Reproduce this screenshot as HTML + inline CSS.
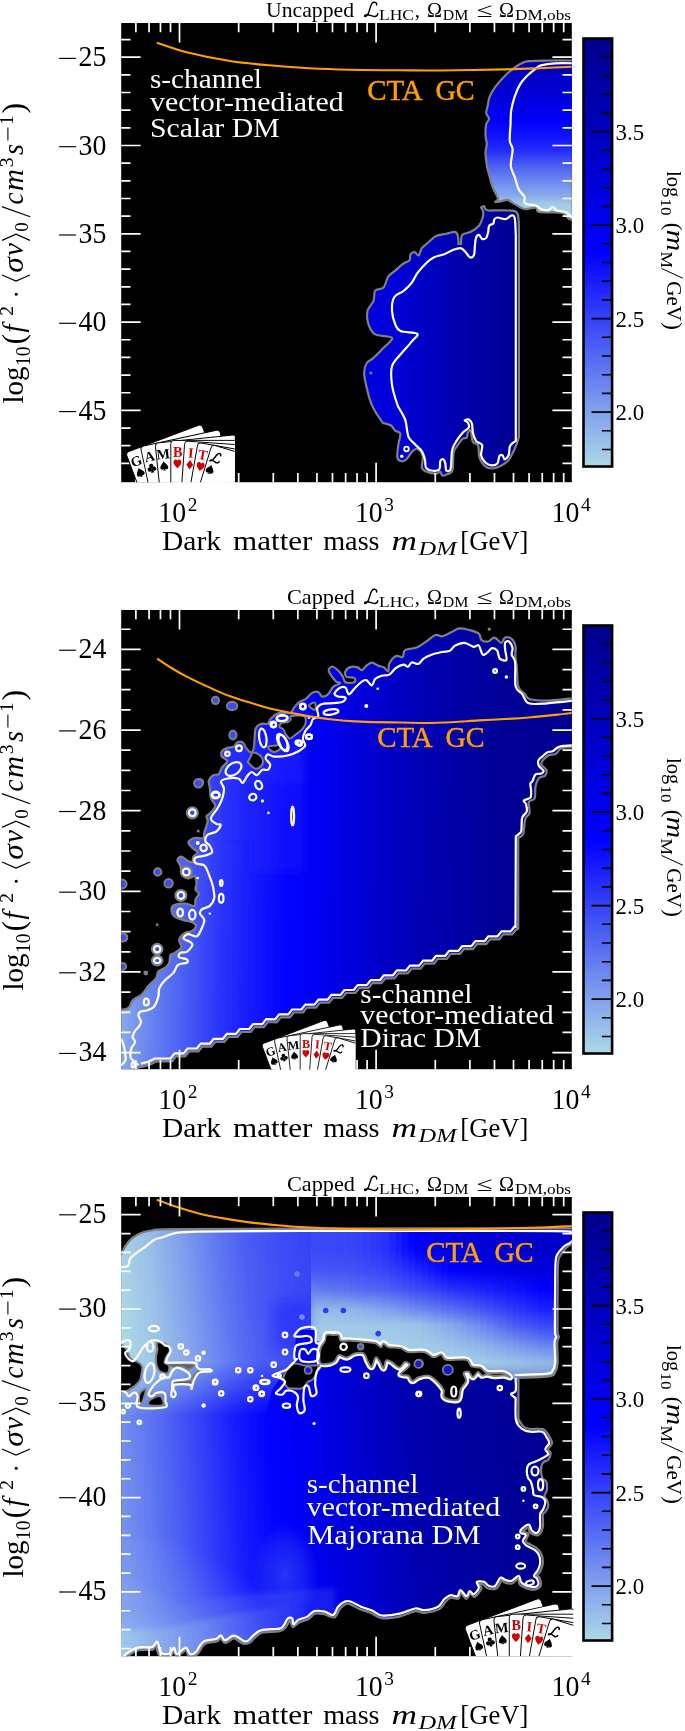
<!DOCTYPE html><html><head><meta charset="utf-8"><title>chart</title>
<style>html,body{margin:0;padding:0;background:#fff}svg{display:block;will-change:transform}text{white-space:pre}</style></head><body>
<svg width="685" height="1731" viewBox="0 0 685 1731">
<rect width="685" height="1731" fill="#fff"/>
<defs>
<linearGradient id="cbg" x1="0" y1="1" x2="0" y2="0">
<stop offset="0" stop-color="#add8e6"/><stop offset="0.5" stop-color="#0000ff"/><stop offset="1" stop-color="#00008b"/></linearGradient>
<g id="cbar">
<rect x="583.5" y="15.5" width="28.6" height="428" fill="url(#cbg)" stroke="#000" stroke-width="2.6"/>
<path d="M611.3 426.50h-9.4M611.3 407.80h-9.4M611.3 389.10h-19.8M611.3 370.40h-9.4M611.3 351.70h-9.4M611.3 333.00h-9.4M611.3 314.30h-9.4M611.3 295.60h-19.8M611.3 276.90h-9.4M611.3 258.20h-9.4M611.3 239.50h-9.4M611.3 220.80h-9.4M611.3 202.10h-19.8M611.3 183.40h-9.4M611.3 164.70h-9.4M611.3 146.00h-9.4M611.3 127.30h-9.4M611.3 108.60h-19.8M611.3 89.90h-9.4M611.3 71.20h-9.4M611.3 52.50h-9.4M611.3 33.80h-9.4" stroke="#000" stroke-width="1.6" fill="none"/>
<text x="615.6" y="116.80" font-size="23" textLength="28.6" lengthAdjust="spacingAndGlyphs" font-family="Liberation Serif, serif">3.5</text>
<text x="615.6" y="210.30" font-size="23" textLength="28.6" lengthAdjust="spacingAndGlyphs" font-family="Liberation Serif, serif">3.0</text>
<text x="615.6" y="303.80" font-size="23" textLength="28.6" lengthAdjust="spacingAndGlyphs" font-family="Liberation Serif, serif">2.5</text>
<text x="615.6" y="397.30" font-size="23" textLength="28.6" lengthAdjust="spacingAndGlyphs" font-family="Liberation Serif, serif">2.0</text>
<g transform="translate(667.2 148) rotate(90)" font-family="Liberation Serif, serif" font-size="20.6">
<text x="0" y="0" textLength="26.2" lengthAdjust="spacingAndGlyphs">log</text>
<text x="27.4" y="6.4" font-size="14.8" textLength="17" lengthAdjust="spacingAndGlyphs">10</text>
<text x="51.8" y="0.8" font-size="23">(</text>
<text x="58.8" y="0" font-style="italic" font-size="24.5" textLength="21.5" lengthAdjust="spacingAndGlyphs">m</text>
<text x="80.4" y="6.6" font-size="16.5" textLength="16.5" lengthAdjust="spacingAndGlyphs">M</text>
<path d="M97.5 5.6L107.2 -15.6" stroke="#000" stroke-width="1.0"/>
<text x="110.2" y="0" textLength="39.8" lengthAdjust="spacingAndGlyphs">GeV</text>
<text x="151.2" y="0.8" font-size="23">)</text>
</g>
</g>
<g id="xax" font-family="Liberation Serif, serif">
<text x="158.3" y="499.1" font-size="28.8" textLength="27.8" lengthAdjust="spacingAndGlyphs">10</text>
<text x="187.7" y="488" font-size="19.4">2</text>
<text x="354.9" y="499.1" font-size="28.8" textLength="27.8" lengthAdjust="spacingAndGlyphs">10</text>
<text x="384.3" y="488" font-size="19.4">3</text>
<text x="551.5" y="499.1" font-size="28.8" textLength="27.8" lengthAdjust="spacingAndGlyphs">10</text>
<text x="580.9" y="488" font-size="19.4">4</text>
<text x="162" y="527.3" font-size="26.4" textLength="59" lengthAdjust="spacingAndGlyphs">Dark</text>
<text x="233" y="527.3" font-size="26.4" textLength="79.5" lengthAdjust="spacingAndGlyphs">matter</text>
<text x="323.2" y="527.3" font-size="26.4" textLength="56.4" lengthAdjust="spacingAndGlyphs">mass</text>
<text x="391.4" y="527.3" font-size="26.4" font-style="italic" textLength="25.5" lengthAdjust="spacingAndGlyphs">m</text>
<text x="418.6" y="531.5" font-size="18.5" font-style="italic" textLength="38" lengthAdjust="spacingAndGlyphs">DM</text>
<text x="460.3" y="527.3" font-size="26.4" textLength="68" lengthAdjust="spacingAndGlyphs">[GeV]</text>
</g>
<g id="yax" transform="translate(23.2 380) rotate(-90)" font-family="Liberation Serif, serif" font-size="28.5">
<text x="-0.5" y="0.0" textLength="37.0" lengthAdjust="spacingAndGlyphs" >log</text>
<text x="37.0" y="7.0" font-size="20.0" textLength="19.5" lengthAdjust="spacingAndGlyphs" >10</text>
<text x="58.6" y="1.2" font-size="32.0" >(</text>
<text x="70.5" y="0.0" font-style="italic">f</text>
<text x="87.2" y="-10.3" font-size="19.5" >2</text>
<circle cx="108.7" cy="-7" r="1.5"/>
<path d="M128 -21.2L121.9 -7.2L128 6.8M162.6 -21.2L168.8 -7.2L162.6 6.8" stroke="#000" stroke-width="1.15" fill="none"/>
<text x="130.2" y="0.0" textLength="15.5" lengthAdjust="spacingAndGlyphs" font-style="italic">σ</text>
<text x="147.0" y="0.0" textLength="13.0" lengthAdjust="spacingAndGlyphs" font-style="italic">v</text>
<text x="171.3" y="5.0" font-size="19.0" >0</text>
<path d="M186.3 7L196.4 -21.4" stroke="#000" stroke-width="1.15"/>
<text x="198.5" y="0.0" textLength="12.0" lengthAdjust="spacingAndGlyphs" font-style="italic">c</text>
<text x="212.0" y="0.0" textLength="22.0" lengthAdjust="spacingAndGlyphs" font-style="italic">m</text>
<text x="235.8" y="-10.3" font-size="19.5" >3</text>
<text x="248.0" y="0.0" textLength="11.0" lengthAdjust="spacingAndGlyphs" font-style="italic">s</text>
<path d="M262.5 -15.3h13.1" stroke="#000" stroke-width="1.05"/>
<text x="278.0" y="-10.3" font-size="19.5" >1</text>
<text x="289.6" y="1.2" font-size="32.0" >)</text>
</g>
<path id="scrL" d="M12.3 -12C12.3 -13.8 11.2 -14.8 9.6 -14.7C8 -14.6 7 -13 6.4 -11L4.3 -4.5C3.6 -2.4 2.4 -0.6 0.8 -0.4C-0.2 -0.3 0 -1.6 1.2 -2C3.2 -2.8 5.4 -1.8 7.7 -1C9.6 -0.2 11.6 -0.2 12.6 -1.4C13.1 -2 13.3 -2.6 13.3 -3.1" fill="none" stroke-linecap="round" stroke-linejoin="round"/>
<clipPath id="logoclip"><rect x="110" y="400" width="124.8" height="82.3"/></clipPath>
<g id="gambit" clip-path="url(#logoclip)">
<g transform="translate(125.7 452.7) rotate(-20.7)">
<rect x="0" y="0" width="81" height="110" rx="3.2" fill="#fff" stroke="#000" stroke-width="0.95"/>
<text x="6.9" y="16.3" font-size="14.2" font-weight="bold" text-anchor="middle" fill="#000" font-family="Liberation Serif, serif">G</text>
<g transform="translate(6.6 23.4)" fill="#000"><path d="M0 -4.6C1 -2.6 4 -0.6 4 1.6C4 3 3 3.8 2 3.8C1.2 3.8 0.6 3.4 0.3 2.8C0.4 3.6 0.8 4.2 1.6 4.6L-1.6 4.6C-0.8 4.2 -0.4 3.6 -0.3 2.8C-0.6 3.4 -1.2 3.8 -2 3.8C-3 3.8 -4 3 -4 1.6C-4 -0.6 -1 -2.6 0 -4.6Z"/></g>
</g>
<g transform="translate(140.4 446.6) rotate(-12.1)">
<rect x="0" y="0" width="81" height="110" rx="3.2" fill="#fff" stroke="#000" stroke-width="0.95"/>
<text x="6.9" y="16.3" font-size="14.2" font-weight="bold" text-anchor="middle" fill="#000" font-family="Liberation Serif, serif">A</text>
<g transform="translate(6.6 23.4)" fill="#000"><path d="M-0.5 0L0.5 0L1.5 4.6L-1.5 4.6Z"/><circle cx="0" cy="-2.3" r="2.15"/><circle cx="-2.3" cy="1" r="2.15"/><circle cx="2.3" cy="1" r="2.15"/></g>
</g>
<g transform="translate(155.1 443.2) rotate(-6.0)">
<rect x="0" y="0" width="81" height="110" rx="3.2" fill="#fff" stroke="#000" stroke-width="0.95"/>
<text x="6.9" y="16.3" font-size="14.2" font-weight="bold" text-anchor="middle" fill="#000" font-family="Liberation Serif, serif">M</text>
<g transform="translate(6.6 23.4)" fill="#000"><path d="M0 -4.6C1 -2.6 4 -0.6 4 1.6C4 3 3 3.8 2 3.8C1.2 3.8 0.6 3.4 0.3 2.8C0.4 3.6 0.8 4.2 1.6 4.6L-1.6 4.6C-0.8 4.2 -0.4 3.6 -0.3 2.8C-0.6 3.4 -1.2 3.8 -2 3.8C-3 3.8 -4 3 -4 1.6C-4 -0.6 -1 -2.6 0 -4.6Z"/></g>
</g>
<g transform="translate(170.8 440.4) rotate(0.0)">
<rect x="0" y="0" width="81" height="110" rx="3.2" fill="#fff" stroke="#000" stroke-width="0.95"/>
<text x="6.9" y="16.3" font-size="14.2" font-weight="bold" text-anchor="middle" fill="#d40000" font-family="Liberation Serif, serif">B</text>
<g transform="translate(6.6 23.4)" fill="#d40000"><path d="M0 4.4C-1.5 2.6 -4 0.8 -4 -1.6C-4 -3.4 -2.8 -4.3 -1.8 -4.3C-0.9 -4.3 -0.3 -3.8 0 -3C0.3 -3.8 0.9 -4.3 1.8 -4.3C2.8 -4.3 4 -3.4 4 -1.6C4 0.8 1.5 2.6 0 4.4Z"/></g>
</g>
<g transform="translate(184.8 441.0) rotate(4.0)">
<rect x="0" y="0" width="81" height="110" rx="3.2" fill="#fff" stroke="#000" stroke-width="0.95"/>
<text x="6.9" y="16.3" font-size="14.2" font-weight="bold" text-anchor="middle" fill="#d40000" font-family="Liberation Serif, serif">I</text>
<g transform="translate(6.6 23.4)" fill="#d40000"><path d="M0 -4.7L3.4 0L0 4.7L-3.4 0Z"/></g>
</g>
<g transform="translate(198.0 442.4) rotate(10.0)">
<rect x="0" y="0" width="81" height="110" rx="3.2" fill="#fff" stroke="#000" stroke-width="0.95"/>
<text x="6.9" y="16.3" font-size="14.2" font-weight="bold" text-anchor="middle" fill="#d40000" font-family="Liberation Serif, serif">T</text>
<g transform="translate(6.6 23.4)" fill="#d40000"><path d="M0 4.4C-1.5 2.6 -4 0.8 -4 -1.6C-4 -3.4 -2.8 -4.3 -1.8 -4.3C-0.9 -4.3 -0.3 -3.8 0 -3C0.3 -3.8 0.9 -4.3 1.8 -4.3C2.8 -4.3 4 -3.4 4 -1.6C4 0.8 1.5 2.6 0 4.4Z"/></g>
</g>
<g transform="translate(212.0 444.5) rotate(17.0)">
<rect x="0" y="0" width="81" height="110" rx="3.2" fill="#fff" stroke="#000" stroke-width="0.95"/>
<g transform="translate(2.6 16.4) scale(0.68) skewX(-4)"><use href="#scrL" stroke="#000" stroke-width="2.2"/></g>
<g transform="translate(5.4 24.4)" fill="#000"><path d="M0 -4.6C1 -2.6 4 -0.6 4 1.6C4 3 3 3.8 2 3.8C1.2 3.8 0.6 3.4 0.3 2.8C0.4 3.6 0.8 4.2 1.6 4.6L-1.6 4.6C-0.8 4.2 -0.4 3.6 -0.3 2.8C-0.6 3.4 -1.2 3.8 -2 3.8C-3 3.8 -4 3 -4 1.6C-4 -0.6 -1 -2.6 0 -4.6Z"/></g>
</g>
</g>
</defs>
<!-- panel 1 -->
<rect x="121.2" y="23.0" width="450.6" height="459.2" fill="#000"/>
<clipPath id="clip0"><rect x="121.2" y="23.0" width="450.6" height="459.2"/></clipPath>
<g clip-path="url(#clip0)">
<linearGradient id="g1u" gradientUnits="userSpaceOnUse" x1="0" y1="58" x2="0" y2="215"><stop offset="0.0000" stop-color="#0000b5"/><stop offset="0.1083" stop-color="#0000c3"/><stop offset="0.2038" stop-color="#0000d1"/><stop offset="0.2994" stop-color="#0000e3"/><stop offset="0.3949" stop-color="#0000fa"/><stop offset="0.4904" stop-color="#0e11fd"/><stop offset="0.5860" stop-color="#232bfa"/><stop offset="0.6815" stop-color="#4a5df4"/><stop offset="0.7771" stop-color="#6b86f0"/><stop offset="0.8726" stop-color="#87a8ec"/><stop offset="0.9236" stop-color="#9fc7e8"/><stop offset="1.0000" stop-color="#add8e6"/></linearGradient>
<linearGradient id="g1l" gradientUnits="userSpaceOnUse" x1="364.0" y1="0.0" x2="518.0" y2="0.0" ><stop offset="0.0000" stop-color="#0000df"/><stop offset="0.1818" stop-color="#0000d8"/><stop offset="0.3636" stop-color="#0000c7"/><stop offset="0.6234" stop-color="#0000ae"/><stop offset="0.8182" stop-color="#00009e"/><stop offset="1.0000" stop-color="#000092"/></linearGradient>
<path d="M576.0 60.5C571.5 60.5 557.2 60.4 549.3 60.5C541.4 60.6 533.4 60.6 528.5 61.2C523.6 61.8 523.0 62.6 520.2 64.0C517.4 65.4 514.7 67.4 511.9 69.6C509.1 71.8 506.4 74.3 503.6 77.2C500.8 80.1 497.6 83.7 495.3 86.9C493.0 90.1 491.0 93.4 489.7 96.6C488.4 99.8 488.2 103.5 487.6 106.3C487.0 109.1 486.0 111.1 486.2 113.2C486.4 115.3 489.0 117.0 489.0 118.8C489.0 120.6 486.8 121.5 486.2 124.3C485.6 127.1 485.4 132.1 485.5 135.4C485.6 138.7 486.8 141.2 486.8 144.0C486.8 146.8 485.5 148.4 485.5 152.1C485.5 155.8 486.2 161.8 486.9 166.0C487.6 170.2 488.8 173.5 489.7 177.0C490.6 180.5 491.4 183.8 492.5 186.8C493.6 189.8 495.7 193.0 496.6 195.1C497.5 197.2 498.2 198.0 498.0 199.2C497.8 200.3 494.8 201.7 495.3 202.0C495.8 202.3 498.7 201.7 500.8 201.3C502.9 201.0 505.4 199.4 507.7 199.9C510.0 200.4 511.9 202.6 514.7 204.1C517.5 205.6 520.9 208.4 524.4 209.0C527.9 209.6 533.2 207.2 535.5 207.6C537.8 208.0 536.0 210.9 538.3 211.7C540.6 212.5 545.1 212.2 549.3 212.4C553.4 212.6 560.0 212.1 563.2 213.1C566.5 214.1 566.7 217.5 568.8 218.7C570.9 219.9 574.8 220.0 576.0 220.3C576.0 193.7 576.0 87.1 576.0 60.5Z" fill="url(#g1u)" stroke="#808080" stroke-width="2.2"/>
<path d="M576.0 63.3C572.5 63.3 560.7 62.9 554.9 63.3C549.1 63.6 544.2 64.5 541.0 65.4C537.8 66.3 537.8 67.2 535.5 68.9C533.2 70.6 529.8 73.3 527.2 75.8C524.7 78.3 522.3 80.6 520.2 84.1C518.1 87.6 516.2 92.2 514.7 96.6C513.2 101.0 511.9 105.9 511.2 110.5C510.5 115.1 510.7 119.2 510.5 124.3C510.3 129.4 509.4 136.8 509.8 141.0C510.2 145.2 512.4 145.1 512.6 149.3C512.8 153.5 510.4 161.4 510.8 166.0C511.2 170.6 513.4 173.1 514.7 177.0C516.0 180.9 517.2 186.2 518.8 189.5C520.4 192.8 523.3 194.2 524.4 196.5C525.5 198.8 523.2 201.9 525.1 203.4C527.0 204.9 532.9 204.6 535.5 205.5C538.1 206.4 538.9 208.2 541.0 209.0C543.1 209.8 546.0 210.7 548.0 210.3C550.0 210.0 551.4 206.9 552.8 206.9C554.2 206.9 554.1 209.4 556.3 210.3C558.5 211.2 563.4 211.2 566.0 212.4C568.6 213.6 570.5 216.2 572.2 217.3C573.9 218.4 575.4 218.7 576.0 219.0" fill="none" stroke="#fff" stroke-width="2.2"/>
<path d="M518.9 225.7C518.7 223.8 518.7 216.9 517.8 214.4C516.9 211.9 516.8 211.6 513.7 210.9C510.6 210.2 503.8 210.4 499.4 210.3C495.0 210.2 489.8 211.0 487.2 210.3C484.6 209.6 484.6 206.9 484.1 206.2C483.6 206.4 481.3 206.5 481.1 207.3C480.9 208.2 482.8 209.6 483.1 211.3C483.4 213.0 483.4 215.1 482.7 217.5C482.0 219.9 481.0 223.3 479.0 225.7C477.0 228.1 473.6 230.3 470.8 231.8C468.0 233.3 463.9 232.9 462.3 234.9C460.7 236.9 461.2 242.5 461.0 244.0C460.6 244.0 459.0 244.0 458.6 244.0C458.4 242.5 458.3 236.9 457.6 234.9C456.9 232.9 456.4 232.0 454.5 231.8C452.6 231.6 449.4 233.1 446.3 233.8C443.2 234.5 439.0 234.5 436.1 235.9C433.2 237.3 431.3 240.0 428.9 242.0C426.5 244.0 423.5 245.9 421.8 248.1C420.1 250.3 419.9 254.6 418.7 255.3C417.5 256.0 416.0 252.4 414.6 252.2C413.2 252.0 411.4 252.9 410.5 254.3C409.6 255.7 410.7 258.9 409.5 260.4C408.3 261.9 405.8 261.8 403.4 263.5C401.0 265.2 397.8 268.4 395.2 270.6C392.6 272.8 390.0 274.0 388.1 276.8C386.2 279.6 385.8 285.1 383.6 287.4C381.5 289.7 376.9 288.5 375.2 290.7C373.5 292.9 374.8 297.4 373.5 300.8C372.2 304.2 368.3 307.0 367.5 310.9C366.7 314.8 367.2 320.4 368.5 324.3C369.8 328.2 371.3 332.1 375.2 334.4C379.1 336.6 390.6 335.6 392.0 337.8C393.4 340.0 386.7 344.5 383.6 347.8C380.5 351.1 376.3 355.4 373.5 357.9C370.7 360.4 368.4 360.5 366.8 363.0C365.2 365.5 364.1 368.8 364.1 373.0C364.1 377.2 365.5 382.8 366.8 388.1C368.1 393.4 369.3 399.3 371.8 404.9C374.3 410.5 379.7 418.6 381.9 421.7C384.1 424.8 383.5 422.9 385.0 423.5C386.5 424.1 389.4 424.3 391.1 425.5C392.8 426.7 393.7 429.3 395.2 430.7C396.7 432.1 399.8 431.3 400.3 433.7C400.8 436.1 398.8 441.1 398.3 445.0C397.8 448.9 396.8 454.5 397.3 457.2C397.8 459.9 399.9 460.9 401.4 461.3C402.9 461.7 404.6 461.0 406.5 459.3C408.4 457.6 410.7 452.8 412.6 451.1C414.5 449.4 416.0 448.1 417.7 449.0C419.4 449.9 422.1 453.1 422.8 456.2C423.5 459.3 421.3 464.8 421.8 467.4C422.3 469.9 423.5 470.5 425.9 471.5C428.3 472.5 433.7 473.6 436.1 473.6C438.5 473.6 439.2 471.2 440.2 471.5C441.2 471.8 441.2 475.1 442.2 475.6C443.2 476.1 444.6 475.5 446.3 474.6C448.0 473.8 451.2 474.1 452.4 470.5C453.6 466.9 452.8 457.0 453.5 453.1C454.2 449.2 455.0 449.4 456.5 447.0C458.0 444.6 461.0 440.3 462.7 438.8C464.4 437.3 465.8 438.8 466.7 437.8C467.6 436.8 467.1 433.9 467.8 432.7C468.5 431.5 470.0 429.2 470.8 430.7C471.6 432.2 471.7 439.5 472.9 441.9C474.1 444.3 476.9 442.4 478.0 445.0C479.1 447.6 478.4 453.8 479.4 457.2C480.4 460.6 482.1 463.5 484.1 465.4C486.1 467.3 488.8 468.3 491.3 468.5C493.9 468.7 496.7 467.6 499.4 466.4C502.1 465.2 505.4 463.5 507.6 461.3C509.8 459.1 511.2 456.0 512.7 453.1C514.2 450.2 515.8 446.6 516.8 443.9C517.8 441.2 518.5 438.0 518.9 436.8C518.9 401.6 518.9 260.9 518.9 225.7Z" fill="url(#g1l)" stroke="#808080" stroke-width="2.2" stroke-linejoin="round"/>
<path d="M515.8 235.9C515.6 233.0 515.5 221.9 514.8 218.5C514.1 215.1 513.2 215.3 511.7 215.4C510.2 215.5 508.0 218.8 505.6 219.1C503.2 219.4 499.3 217.4 497.4 217.5C495.5 217.6 495.0 218.5 494.3 219.5C493.6 220.5 494.2 222.6 493.3 223.6C492.4 224.6 490.1 224.3 489.2 225.7C488.3 227.1 488.7 229.8 488.2 231.8C487.7 233.8 487.2 236.7 486.2 237.9C485.2 239.1 483.3 239.4 482.1 238.9C480.9 238.4 480.0 235.1 479.0 234.9C478.0 234.7 476.7 236.0 476.0 237.9C475.3 239.8 475.2 243.2 474.9 246.1C474.5 249.0 474.8 253.4 473.9 255.3C473.0 257.2 471.2 257.8 469.8 257.3C468.4 256.8 467.2 253.7 465.7 252.2C464.2 250.7 462.8 248.4 460.6 248.1C458.4 247.8 455.1 249.2 452.4 250.2C449.7 251.2 447.4 253.1 444.3 254.3C441.2 255.5 437.2 255.8 434.1 257.3C431.0 258.8 428.6 260.9 425.9 263.5C423.2 266.1 420.1 269.5 417.7 272.7C415.3 275.9 414.0 279.8 411.6 282.9C409.2 286.0 406.3 288.7 403.4 291.1C400.5 293.5 396.1 293.9 394.2 297.2C392.3 300.5 391.8 306.4 392.0 310.9C392.2 315.4 393.9 320.9 395.3 324.3C396.7 327.7 396.8 329.4 400.4 331.0C404.0 332.6 415.2 332.0 417.2 333.7C419.1 335.4 414.9 337.6 412.1 341.1C409.3 344.6 403.8 350.3 400.4 354.5C397.0 358.7 393.4 361.2 392.0 366.3C390.6 371.4 391.1 378.4 392.0 384.8C392.9 391.2 395.9 400.3 397.3 404.5C398.7 408.7 399.0 407.6 400.3 410.2C401.6 412.8 404.0 416.0 405.4 420.4C406.8 424.8 406.8 432.7 408.5 436.8C410.2 440.9 413.5 442.6 415.7 445.0C417.9 447.4 420.3 448.7 421.8 451.1C423.3 453.5 424.2 456.6 424.9 459.3C425.6 462.0 424.9 465.5 425.9 467.4C426.9 469.3 428.8 470.1 431.0 470.5C433.2 470.9 437.7 471.0 439.2 469.5C440.7 468.0 439.5 463.0 440.2 461.3C440.9 459.6 442.3 459.0 443.2 459.3C444.1 459.6 444.8 461.5 445.3 463.4C445.8 465.3 445.5 469.5 446.3 470.5C447.1 471.5 449.5 471.4 450.4 469.5C451.2 467.6 451.1 462.7 451.4 459.3C451.7 455.9 451.5 452.1 452.4 449.0C453.2 445.9 454.8 443.6 456.5 440.9C458.2 438.2 460.6 434.9 462.7 432.7C464.8 430.5 467.9 429.3 468.8 427.6C469.7 425.9 468.5 423.7 467.8 422.5C467.1 421.3 464.5 420.9 464.7 420.4C464.9 419.9 467.6 418.9 468.8 419.4C470.0 419.9 471.2 421.3 471.9 423.5C472.6 425.7 472.2 429.8 472.9 432.7C473.6 435.6 474.5 438.8 476.0 440.9C477.5 442.9 481.2 442.6 482.1 445.0C483.0 447.4 480.6 452.3 481.1 455.2C481.6 458.1 483.4 460.6 485.1 462.3C486.8 464.0 489.2 465.2 491.3 465.4C493.4 465.6 496.0 464.9 497.4 463.4C498.8 461.9 498.5 457.6 499.4 456.2C500.2 454.8 501.6 454.7 502.5 455.2C503.4 455.7 503.6 459.3 504.6 459.3C505.6 459.3 507.8 457.2 508.6 455.2C509.5 453.1 509.2 448.9 509.7 447.0C510.2 445.1 510.7 444.9 511.7 443.9C512.7 442.9 515.1 441.4 515.8 440.9C515.8 406.7 515.8 270.1 515.8 235.9Z" fill="url(#g1l)" stroke="#fff" stroke-width="2.2" stroke-linejoin="round"/>
<circle cx="406.5" cy="449" r="2.3" fill="none" stroke="#fff" stroke-width="1.8"/><circle cx="401.8" cy="456.2" r="1.7" fill="#fff"/><circle cx="370.8" cy="373" r="1.5" fill="#808080"/>
<path d="M156.9 42.8C162.0 44.4 175.2 49.5 187.6 52.6C200.0 55.7 216.8 59.1 231.4 61.3C246.0 63.5 260.6 64.5 275.2 65.7C289.8 67.0 304.4 68.1 319.0 68.8C333.6 69.5 349.3 69.8 362.8 70.0C376.3 70.2 387.1 70.2 400.0 70.3C412.9 70.4 422.4 70.7 440.0 70.5C457.6 70.3 488.2 69.8 505.7 69.4C523.2 69.0 534.0 68.4 545.0 68.0C556.0 67.6 567.5 67.0 572.0 66.8" fill="none" stroke="#ffa000" stroke-width="2.1"/>
</g>
<path d="M179.50 23.00v19.4M179.50 482.20v-19.4M376.10 23.00v19.4M376.10 482.20v-19.4M135.88 23.00v9.3M135.88 482.20v-9.3M149.05 23.00v9.3M149.05 482.20v-9.3M160.45 23.00v9.3M160.45 482.20v-9.3M170.50 23.00v9.3M170.50 482.20v-9.3M238.68 23.00v9.3M238.68 482.20v-9.3M273.30 23.00v9.3M273.30 482.20v-9.3M297.86 23.00v9.3M297.86 482.20v-9.3M316.92 23.00v9.3M316.92 482.20v-9.3M332.48 23.00v9.3M332.48 482.20v-9.3M345.65 23.00v9.3M345.65 482.20v-9.3M357.05 23.00v9.3M357.05 482.20v-9.3M367.10 23.00v9.3M367.10 482.20v-9.3M435.28 23.00v9.3M435.28 482.20v-9.3M469.90 23.00v9.3M469.90 482.20v-9.3M494.46 23.00v9.3M494.46 482.20v-9.3M513.52 23.00v9.3M513.52 482.20v-9.3M529.08 23.00v9.3M529.08 482.20v-9.3M542.25 23.00v9.3M542.25 482.20v-9.3M553.65 23.00v9.3M553.65 482.20v-9.3M563.70 23.00v9.3M563.70 482.20v-9.3M121.20 57.20h19.4M571.80 57.20h-19.4M121.20 145.50h19.4M571.80 145.50h-19.4M121.20 233.80h19.4M571.80 233.80h-19.4M121.20 322.10h19.4M571.80 322.10h-19.4M121.20 410.40h19.4M571.80 410.40h-19.4M121.20 463.38h9.3M571.80 463.38h-9.3M121.20 445.72h9.3M571.80 445.72h-9.3M121.20 428.06h9.3M571.80 428.06h-9.3M121.20 392.74h9.3M571.80 392.74h-9.3M121.20 375.08h9.3M571.80 375.08h-9.3M121.20 357.42h9.3M571.80 357.42h-9.3M121.20 339.76h9.3M571.80 339.76h-9.3M121.20 304.44h9.3M571.80 304.44h-9.3M121.20 286.78h9.3M571.80 286.78h-9.3M121.20 269.12h9.3M571.80 269.12h-9.3M121.20 251.46h9.3M571.80 251.46h-9.3M121.20 216.14h9.3M571.80 216.14h-9.3M121.20 198.48h9.3M571.80 198.48h-9.3M121.20 180.82h9.3M571.80 180.82h-9.3M121.20 163.16h9.3M571.80 163.16h-9.3M121.20 127.84h9.3M571.80 127.84h-9.3M121.20 110.18h9.3M571.80 110.18h-9.3M121.20 92.52h9.3M571.80 92.52h-9.3M121.20 74.86h9.3M571.80 74.86h-9.3M121.20 39.54h9.3M571.80 39.54h-9.3" stroke="#fff" stroke-width="1.7" fill="none"/>
<g font-family="Liberation Serif, serif" font-size="28" fill="#fff">
<text x="150" y="88.3" textLength="112" lengthAdjust="spacingAndGlyphs">s-channel</text>
<text x="150" y="110.8" textLength="193.6" lengthAdjust="spacingAndGlyphs">vector-mediated</text>
<text x="150" y="136.5" textLength="129.6" lengthAdjust="spacingAndGlyphs">Scalar DM</text>
</g>
<g font-size="29" fill="#ffa000" stroke="#ffa000" stroke-width="0.45" font-family="Liberation Serif, serif"><text x="367.2" y="99.6" textLength="55.6" lengthAdjust="spacingAndGlyphs">CTA</text><text x="435.4" y="99.6" textLength="39.2" lengthAdjust="spacingAndGlyphs">GC</text></g>
<use href="#gambit"/>
<path d="M59.1 58.40h17" stroke="#000" stroke-width="1.15"/>
<text x="78.6" y="66.40" font-size="28.6" textLength="27.8" lengthAdjust="spacingAndGlyphs" font-family="Liberation Serif, serif">25</text>
<path d="M59.1 146.70h17" stroke="#000" stroke-width="1.15"/>
<text x="78.6" y="154.70" font-size="28.6" textLength="27.8" lengthAdjust="spacingAndGlyphs" font-family="Liberation Serif, serif">30</text>
<path d="M59.1 235.00h17" stroke="#000" stroke-width="1.15"/>
<text x="78.6" y="243.00" font-size="28.6" textLength="27.8" lengthAdjust="spacingAndGlyphs" font-family="Liberation Serif, serif">35</text>
<path d="M59.1 323.30h17" stroke="#000" stroke-width="1.15"/>
<text x="78.6" y="331.30" font-size="28.6" textLength="27.8" lengthAdjust="spacingAndGlyphs" font-family="Liberation Serif, serif">40</text>
<path d="M59.1 411.60h17" stroke="#000" stroke-width="1.15"/>
<text x="78.6" y="419.60" font-size="28.6" textLength="27.8" lengthAdjust="spacingAndGlyphs" font-family="Liberation Serif, serif">45</text>
<g font-family="Liberation Serif, serif" font-size="20.6">
<text x="266" y="16.9" textLength="88" lengthAdjust="spacingAndGlyphs">Uncapped</text>
<use href="#scrL" x="364.4" y="16.9" stroke="#000" stroke-width="1.45"/>
<text x="379" y="20.3" font-size="14.3" textLength="35" lengthAdjust="spacingAndGlyphs">LHC</text>
<text x="414.8" y="16.9">,</text>
<text x="427" y="16.9" textLength="15" lengthAdjust="spacingAndGlyphs">Ω</text>
<text x="442.8" y="20.3" font-size="14.3" textLength="25.6" lengthAdjust="spacingAndGlyphs">DM</text>
<text x="476.6" y="16.9" textLength="16" lengthAdjust="spacingAndGlyphs">≤</text>
<text x="499" y="16.9" textLength="15" lengthAdjust="spacingAndGlyphs">Ω</text>
<text x="515" y="20.3" font-size="14.3" textLength="56" lengthAdjust="spacingAndGlyphs">DM,obs</text>
</g>
<use href="#cbar" y="23.0"/>
<use href="#xax" y="23.0"/>
<use href="#yax" y="23.0"/>
<!-- panel 2 -->
<rect x="121.2" y="610.0" width="450.6" height="459.2" fill="#000"/>
<clipPath id="clip1"><rect x="121.2" y="610.0" width="450.6" height="459.2"/></clipPath>
<g clip-path="url(#clip1)">
<linearGradient id="g2" gradientUnits="userSpaceOnUse" x1="121.0" y1="925.0" x2="572.0" y2="935.0" ><stop offset="0.0000" stop-color="#8aadeb"/><stop offset="0.0643" stop-color="#6b86f0"/><stop offset="0.1463" stop-color="#4a5df4"/><stop offset="0.2195" stop-color="#2b36f9"/><stop offset="0.2905" stop-color="#151afc"/><stop offset="0.3636" stop-color="#0304fe"/><stop offset="0.4368" stop-color="#0000f2"/><stop offset="0.5100" stop-color="#0000dc"/><stop offset="0.5831" stop-color="#0000c7"/><stop offset="0.6563" stop-color="#0000b5"/><stop offset="0.7295" stop-color="#0000a8"/><stop offset="0.8004" stop-color="#00009b"/><stop offset="0.8736" stop-color="#000094"/><stop offset="1.0000" stop-color="#000092"/></linearGradient>
<clipPath id="c2all"><path d="M118.0 1009.8C118.7 998.9 120.4 1010.2 122.2 1009.8C124.0 1009.4 127.0 1009.2 128.8 1007.6C130.6 1006.0 130.9 1002.1 133.1 999.9C135.3 997.7 139.3 996.8 141.9 994.4C144.5 992.0 146.1 988.4 148.5 985.7C150.9 983.0 154.5 980.4 156.1 978.0C157.7 975.6 156.7 973.3 158.3 971.5C160.0 969.7 164.2 968.6 166.0 967.1C167.8 965.6 168.6 964.7 169.3 962.7C170.0 960.7 169.5 956.6 170.4 955.0C171.3 953.4 172.9 954.1 174.7 952.8C176.5 951.5 180.6 949.6 181.3 947.4C182.0 945.2 178.6 942.1 179.1 939.7C179.6 937.3 182.4 934.6 184.6 933.1C186.8 931.6 190.4 932.1 192.3 930.9C194.2 929.7 196.0 927.4 196.0 926.0C196.0 924.6 194.4 923.3 192.3 922.3C190.2 921.3 186.4 921.0 183.5 920.1C180.6 919.2 176.7 918.6 174.7 916.8C172.7 915.0 171.5 911.2 171.5 909.2C171.5 907.2 172.3 905.7 174.7 904.8C177.1 903.9 182.4 903.5 185.7 903.7C189.0 903.9 192.8 906.6 194.4 905.9C196.0 905.2 194.8 901.3 195.5 899.3C196.2 897.3 198.8 895.5 198.8 893.9C198.8 892.3 195.9 891.3 195.5 889.5C195.1 887.7 196.8 885.1 196.6 882.9C196.4 880.7 195.8 877.0 194.4 876.3C193.0 875.6 189.9 878.9 187.9 878.5C185.9 878.1 183.7 876.4 182.4 874.2C181.1 872.0 181.0 867.8 180.2 865.4C179.4 863.0 177.2 861.4 177.4 859.9C177.6 858.4 179.6 856.4 181.3 856.6C183.1 856.8 186.1 860.1 187.9 861.0C189.7 861.9 191.4 862.8 192.3 862.1C193.2 861.4 192.5 858.2 193.4 856.6C194.3 855.0 197.9 853.8 197.7 852.3C197.5 850.8 193.9 849.5 192.3 847.9C190.7 846.2 188.0 844.0 188.3 842.4C188.7 840.8 191.9 838.7 194.4 838.0C196.9 837.3 201.5 838.9 203.2 838.0C204.8 837.1 203.6 835.2 204.3 832.5C205.0 829.8 207.2 824.3 207.6 821.6C208.0 818.9 206.1 817.4 206.5 816.1C206.9 814.8 208.4 815.3 209.9 813.6C211.4 811.9 215.1 808.5 215.3 805.9C215.5 803.3 211.8 801.1 210.9 798.2C210.0 795.3 210.2 791.3 209.9 788.4C209.6 785.5 208.3 782.9 208.8 780.7C209.3 778.5 211.5 776.3 213.1 775.2C214.7 774.1 217.1 775.5 218.6 774.2C220.1 772.9 220.4 769.8 221.9 767.6C223.4 765.4 227.4 762.8 227.4 761.0C227.4 759.2 222.8 758.2 221.9 756.6C221.0 755.0 221.0 752.7 221.9 751.2C222.8 749.8 225.4 748.6 227.4 747.9C229.4 747.2 232.3 747.7 233.9 746.8C235.5 745.9 235.7 743.1 237.2 742.4C238.7 741.7 241.2 741.5 242.7 742.4C244.2 743.3 244.7 746.2 246.0 747.9C247.3 749.5 249.1 752.1 250.4 752.3C251.7 752.5 252.9 751.6 253.6 749.0C254.3 746.4 254.3 740.4 254.7 736.9C255.1 733.4 254.7 730.4 255.8 728.2C256.9 726.0 259.3 724.5 261.3 723.8C263.3 723.1 266.4 724.5 267.9 723.8C269.4 723.1 268.7 721.0 270.1 719.4C271.6 717.8 274.2 715.0 276.6 713.9C279.0 712.8 281.9 713.0 284.3 712.8C286.7 712.6 289.2 713.7 290.9 712.8C292.5 711.9 292.8 709.2 294.2 707.4C295.6 705.6 297.6 703.4 299.6 701.9C301.6 700.4 304.2 700.1 306.2 698.6C308.2 697.1 309.7 694.2 311.7 693.1C313.7 692.0 316.5 691.4 318.2 692.0C319.9 692.6 320.4 696.1 322.0 696.5C323.6 696.9 326.1 695.9 328.0 694.3C329.9 692.6 331.5 688.4 333.5 686.6C335.5 684.8 339.6 684.3 340.0 683.4C340.4 682.5 337.1 682.5 335.7 681.2C334.2 679.9 332.5 677.5 331.3 675.7C330.1 673.9 328.5 671.7 328.7 670.2C328.9 668.7 330.9 666.5 332.4 666.5C333.9 666.5 336.2 668.7 337.9 670.2C339.5 671.7 341.0 673.7 342.3 675.7C343.6 677.7 343.5 681.2 345.5 682.3C347.5 683.4 352.8 683.0 354.3 682.3C355.8 681.6 355.6 678.8 354.3 677.9C353.0 677.0 348.1 677.9 346.6 676.8C345.1 675.7 344.8 672.9 345.5 671.3C346.2 669.6 349.0 667.5 351.0 666.9C353.0 666.2 355.8 666.8 357.6 667.4C359.4 668.0 360.6 670.5 362.0 670.2C363.4 669.9 364.7 667.1 366.3 665.8C367.9 664.5 369.8 662.6 371.8 662.6C373.8 662.6 376.4 665.0 378.4 665.8C380.4 666.6 382.3 666.5 383.9 667.4C385.5 668.3 387.3 671.9 388.2 671.3C389.1 670.7 388.0 666.1 389.3 663.6C390.6 661.1 393.7 657.1 395.9 656.0C398.1 654.9 401.0 658.0 402.5 657.1C404.0 656.2 403.1 651.9 404.7 650.5C406.3 649.1 410.0 649.1 412.3 648.5C414.6 647.9 416.1 648.0 418.4 646.8C420.7 645.6 423.4 643.5 426.3 641.5C429.2 639.5 432.9 635.9 435.5 635.0C438.1 634.1 439.4 636.8 442.0 636.3C444.6 635.8 448.3 633.6 451.2 632.3C454.1 631.0 456.2 628.8 459.1 628.4C462.0 628.0 465.0 628.8 468.3 629.7C471.6 630.6 476.6 631.9 478.8 633.6C481.0 635.4 480.0 638.9 481.5 640.2C483.0 641.5 485.8 641.9 488.0 641.5C490.2 641.1 492.4 637.4 494.6 637.6C496.8 637.8 499.4 642.8 501.2 642.8C502.9 642.8 503.4 638.2 505.1 637.6C506.9 637.0 509.9 637.4 511.7 638.9C513.5 640.4 515.0 643.9 515.6 646.8C516.2 649.6 515.1 652.5 515.3 656.0C515.5 659.5 516.4 662.8 516.9 667.8C517.4 672.8 516.9 681.8 518.2 686.2C519.5 690.6 522.8 691.9 524.8 694.1C526.8 696.3 526.4 698.2 530.1 699.3C533.8 700.4 541.6 700.6 547.1 700.6C552.6 700.6 558.1 699.7 562.9 699.3C567.7 698.9 573.8 698.2 576.0 698.0C576.0 706.2 576.0 739.0 576.0 747.2C573.6 747.3 565.1 746.9 561.8 748.0C558.4 749.1 558.1 752.7 555.9 753.9C553.7 755.1 550.8 754.2 548.6 755.3C546.4 756.4 544.0 758.8 542.8 760.4C541.6 762.0 540.9 763.4 541.5 765.0C542.1 766.6 545.8 768.1 546.4 769.9C547.0 771.7 546.2 774.4 545.0 775.8C543.8 777.1 540.7 776.2 539.1 778.0C537.5 779.8 536.2 783.3 535.5 786.7C534.8 790.1 535.8 795.9 534.7 798.4C533.6 800.9 529.8 799.6 528.9 802.0C528.0 804.4 530.2 810.2 529.6 813.0C529.0 815.8 526.4 815.3 525.3 818.8C524.2 822.3 524.3 831.0 523.1 834.2C521.9 837.4 519.0 837.2 518.2 837.8C518.2 853.0 518.2 913.6 518.2 928.8C517.9 928.9 516.5 929.4 516.2 929.5C515.5 930.3 512.9 933.6 512.3 934.4C510.8 934.4 504.6 934.4 503.1 934.4C502.5 935.2 499.9 938.5 499.2 939.3C497.7 939.3 491.6 939.3 490.0 939.3C489.4 940.1 486.8 943.4 486.1 944.2C484.6 944.2 478.5 944.2 476.9 944.2C476.3 945.0 473.7 948.2 473.0 949.1C471.5 949.1 465.4 949.0 463.9 949.0C463.2 949.9 460.6 953.1 460.0 953.9C458.4 953.9 452.3 953.9 450.8 953.9C450.1 954.7 447.5 958.0 446.9 958.8C445.4 958.8 439.2 958.8 437.7 958.8C437.1 959.6 434.5 962.9 433.8 963.7C432.3 963.7 426.2 963.7 424.6 963.7C424.0 964.5 421.4 967.8 420.7 968.6C419.2 968.6 413.1 968.6 411.5 968.6C410.9 969.4 408.3 972.6 407.6 973.5C406.1 973.5 400.0 973.4 398.5 973.4C397.8 974.3 395.2 977.5 394.6 978.3C393.0 978.3 386.9 978.3 385.4 978.3C384.7 979.1 382.1 982.4 381.5 983.2C379.9 983.2 373.8 983.2 372.3 983.2C371.6 984.0 369.0 987.3 368.4 988.1C366.9 988.1 360.8 988.1 359.2 988.1C358.6 988.9 356.0 992.2 355.3 993.0C353.8 993.0 347.7 993.0 346.1 993.0C345.5 993.8 342.9 997.0 342.2 997.9C340.7 997.9 334.6 997.8 333.1 997.8C332.4 998.7 329.8 1001.9 329.2 1002.7C327.6 1002.7 321.5 1002.7 320.0 1002.7C319.3 1003.5 316.7 1006.8 316.1 1007.6C314.6 1007.6 308.4 1007.6 306.9 1007.6C306.2 1008.4 303.6 1011.7 303.0 1012.5C301.5 1012.5 295.4 1012.5 293.8 1012.5C293.2 1013.3 290.6 1016.6 289.9 1017.4C288.4 1017.4 282.3 1017.4 280.7 1017.4C280.1 1018.2 277.5 1021.4 276.8 1022.3C275.3 1022.3 269.2 1022.2 267.7 1022.2C267.0 1023.1 264.4 1026.3 263.8 1027.1C262.2 1027.1 256.1 1027.1 254.6 1027.1C253.9 1027.9 251.3 1031.2 250.7 1032.0C249.1 1032.0 243.0 1032.0 241.5 1032.0C240.8 1032.8 238.2 1036.1 237.6 1036.9C236.1 1036.9 229.9 1036.9 228.4 1036.9C227.8 1037.7 225.2 1041.0 224.5 1041.8C223.0 1041.8 216.9 1041.8 215.3 1041.8C214.7 1042.6 212.1 1045.8 211.4 1046.7C209.9 1046.7 203.8 1046.6 202.3 1046.6C201.6 1047.5 199.0 1050.7 198.4 1051.5C196.8 1051.5 190.7 1051.5 189.2 1051.5C188.5 1052.3 185.9 1055.6 185.3 1056.4C183.8 1056.4 177.6 1056.4 176.1 1056.4C175.4 1057.2 172.8 1060.5 172.2 1061.3C169.6 1061.3 159.0 1061.5 156.4 1061.5C155.3 1062.0 150.9 1064.2 149.8 1064.8C148.8 1065.1 144.6 1066.1 143.5 1066.4C142.4 1066.7 139.2 1066.6 137.0 1068.0C134.8 1069.4 131.2 1073.8 130.0 1075.0C128.0 1075.0 120.0 1075.0 118.0 1075.0C118.0 1064.1 117.3 1020.7 118.0 1009.8Z"/></clipPath>
<path d="M118.0 1009.8C118.7 998.9 120.4 1010.2 122.2 1009.8C124.0 1009.4 127.0 1009.2 128.8 1007.6C130.6 1006.0 130.9 1002.1 133.1 999.9C135.3 997.7 139.3 996.8 141.9 994.4C144.5 992.0 146.1 988.4 148.5 985.7C150.9 983.0 154.5 980.4 156.1 978.0C157.7 975.6 156.7 973.3 158.3 971.5C160.0 969.7 164.2 968.6 166.0 967.1C167.8 965.6 168.6 964.7 169.3 962.7C170.0 960.7 169.5 956.6 170.4 955.0C171.3 953.4 172.9 954.1 174.7 952.8C176.5 951.5 180.6 949.6 181.3 947.4C182.0 945.2 178.6 942.1 179.1 939.7C179.6 937.3 182.4 934.6 184.6 933.1C186.8 931.6 190.4 932.1 192.3 930.9C194.2 929.7 196.0 927.4 196.0 926.0C196.0 924.6 194.4 923.3 192.3 922.3C190.2 921.3 186.4 921.0 183.5 920.1C180.6 919.2 176.7 918.6 174.7 916.8C172.7 915.0 171.5 911.2 171.5 909.2C171.5 907.2 172.3 905.7 174.7 904.8C177.1 903.9 182.4 903.5 185.7 903.7C189.0 903.9 192.8 906.6 194.4 905.9C196.0 905.2 194.8 901.3 195.5 899.3C196.2 897.3 198.8 895.5 198.8 893.9C198.8 892.3 195.9 891.3 195.5 889.5C195.1 887.7 196.8 885.1 196.6 882.9C196.4 880.7 195.8 877.0 194.4 876.3C193.0 875.6 189.9 878.9 187.9 878.5C185.9 878.1 183.7 876.4 182.4 874.2C181.1 872.0 181.0 867.8 180.2 865.4C179.4 863.0 177.2 861.4 177.4 859.9C177.6 858.4 179.6 856.4 181.3 856.6C183.1 856.8 186.1 860.1 187.9 861.0C189.7 861.9 191.4 862.8 192.3 862.1C193.2 861.4 192.5 858.2 193.4 856.6C194.3 855.0 197.9 853.8 197.7 852.3C197.5 850.8 193.9 849.5 192.3 847.9C190.7 846.2 188.0 844.0 188.3 842.4C188.7 840.8 191.9 838.7 194.4 838.0C196.9 837.3 201.5 838.9 203.2 838.0C204.8 837.1 203.6 835.2 204.3 832.5C205.0 829.8 207.2 824.3 207.6 821.6C208.0 818.9 206.1 817.4 206.5 816.1C206.9 814.8 208.4 815.3 209.9 813.6C211.4 811.9 215.1 808.5 215.3 805.9C215.5 803.3 211.8 801.1 210.9 798.2C210.0 795.3 210.2 791.3 209.9 788.4C209.6 785.5 208.3 782.9 208.8 780.7C209.3 778.5 211.5 776.3 213.1 775.2C214.7 774.1 217.1 775.5 218.6 774.2C220.1 772.9 220.4 769.8 221.9 767.6C223.4 765.4 227.4 762.8 227.4 761.0C227.4 759.2 222.8 758.2 221.9 756.6C221.0 755.0 221.0 752.7 221.9 751.2C222.8 749.8 225.4 748.6 227.4 747.9C229.4 747.2 232.3 747.7 233.9 746.8C235.5 745.9 235.7 743.1 237.2 742.4C238.7 741.7 241.2 741.5 242.7 742.4C244.2 743.3 244.7 746.2 246.0 747.9C247.3 749.5 249.1 752.1 250.4 752.3C251.7 752.5 252.9 751.6 253.6 749.0C254.3 746.4 254.3 740.4 254.7 736.9C255.1 733.4 254.7 730.4 255.8 728.2C256.9 726.0 259.3 724.5 261.3 723.8C263.3 723.1 266.4 724.5 267.9 723.8C269.4 723.1 268.7 721.0 270.1 719.4C271.6 717.8 274.2 715.0 276.6 713.9C279.0 712.8 281.9 713.0 284.3 712.8C286.7 712.6 289.2 713.7 290.9 712.8C292.5 711.9 292.8 709.2 294.2 707.4C295.6 705.6 297.6 703.4 299.6 701.9C301.6 700.4 304.2 700.1 306.2 698.6C308.2 697.1 309.7 694.2 311.7 693.1C313.7 692.0 316.5 691.4 318.2 692.0C319.9 692.6 320.4 696.1 322.0 696.5C323.6 696.9 326.1 695.9 328.0 694.3C329.9 692.6 331.5 688.4 333.5 686.6C335.5 684.8 339.6 684.3 340.0 683.4C340.4 682.5 337.1 682.5 335.7 681.2C334.2 679.9 332.5 677.5 331.3 675.7C330.1 673.9 328.5 671.7 328.7 670.2C328.9 668.7 330.9 666.5 332.4 666.5C333.9 666.5 336.2 668.7 337.9 670.2C339.5 671.7 341.0 673.7 342.3 675.7C343.6 677.7 343.5 681.2 345.5 682.3C347.5 683.4 352.8 683.0 354.3 682.3C355.8 681.6 355.6 678.8 354.3 677.9C353.0 677.0 348.1 677.9 346.6 676.8C345.1 675.7 344.8 672.9 345.5 671.3C346.2 669.6 349.0 667.5 351.0 666.9C353.0 666.2 355.8 666.8 357.6 667.4C359.4 668.0 360.6 670.5 362.0 670.2C363.4 669.9 364.7 667.1 366.3 665.8C367.9 664.5 369.8 662.6 371.8 662.6C373.8 662.6 376.4 665.0 378.4 665.8C380.4 666.6 382.3 666.5 383.9 667.4C385.5 668.3 387.3 671.9 388.2 671.3C389.1 670.7 388.0 666.1 389.3 663.6C390.6 661.1 393.7 657.1 395.9 656.0C398.1 654.9 401.0 658.0 402.5 657.1C404.0 656.2 403.1 651.9 404.7 650.5C406.3 649.1 410.0 649.1 412.3 648.5C414.6 647.9 416.1 648.0 418.4 646.8C420.7 645.6 423.4 643.5 426.3 641.5C429.2 639.5 432.9 635.9 435.5 635.0C438.1 634.1 439.4 636.8 442.0 636.3C444.6 635.8 448.3 633.6 451.2 632.3C454.1 631.0 456.2 628.8 459.1 628.4C462.0 628.0 465.0 628.8 468.3 629.7C471.6 630.6 476.6 631.9 478.8 633.6C481.0 635.4 480.0 638.9 481.5 640.2C483.0 641.5 485.8 641.9 488.0 641.5C490.2 641.1 492.4 637.4 494.6 637.6C496.8 637.8 499.4 642.8 501.2 642.8C502.9 642.8 503.4 638.2 505.1 637.6C506.9 637.0 509.9 637.4 511.7 638.9C513.5 640.4 515.0 643.9 515.6 646.8C516.2 649.6 515.1 652.5 515.3 656.0C515.5 659.5 516.4 662.8 516.9 667.8C517.4 672.8 516.9 681.8 518.2 686.2C519.5 690.6 522.8 691.9 524.8 694.1C526.8 696.3 526.4 698.2 530.1 699.3C533.8 700.4 541.6 700.6 547.1 700.6C552.6 700.6 558.1 699.7 562.9 699.3C567.7 698.9 573.8 698.2 576.0 698.0C576.0 706.2 576.0 739.0 576.0 747.2C573.6 747.3 565.1 746.9 561.8 748.0C558.4 749.1 558.1 752.7 555.9 753.9C553.7 755.1 550.8 754.2 548.6 755.3C546.4 756.4 544.0 758.8 542.8 760.4C541.6 762.0 540.9 763.4 541.5 765.0C542.1 766.6 545.8 768.1 546.4 769.9C547.0 771.7 546.2 774.4 545.0 775.8C543.8 777.1 540.7 776.2 539.1 778.0C537.5 779.8 536.2 783.3 535.5 786.7C534.8 790.1 535.8 795.9 534.7 798.4C533.6 800.9 529.8 799.6 528.9 802.0C528.0 804.4 530.2 810.2 529.6 813.0C529.0 815.8 526.4 815.3 525.3 818.8C524.2 822.3 524.3 831.0 523.1 834.2C521.9 837.4 519.0 837.2 518.2 837.8C518.2 853.0 518.2 913.6 518.2 928.8C517.9 928.9 516.5 929.4 516.2 929.5C515.5 930.3 512.9 933.6 512.3 934.4C510.8 934.4 504.6 934.4 503.1 934.4C502.5 935.2 499.9 938.5 499.2 939.3C497.7 939.3 491.6 939.3 490.0 939.3C489.4 940.1 486.8 943.4 486.1 944.2C484.6 944.2 478.5 944.2 476.9 944.2C476.3 945.0 473.7 948.2 473.0 949.1C471.5 949.1 465.4 949.0 463.9 949.0C463.2 949.9 460.6 953.1 460.0 953.9C458.4 953.9 452.3 953.9 450.8 953.9C450.1 954.7 447.5 958.0 446.9 958.8C445.4 958.8 439.2 958.8 437.7 958.8C437.1 959.6 434.5 962.9 433.8 963.7C432.3 963.7 426.2 963.7 424.6 963.7C424.0 964.5 421.4 967.8 420.7 968.6C419.2 968.6 413.1 968.6 411.5 968.6C410.9 969.4 408.3 972.6 407.6 973.5C406.1 973.5 400.0 973.4 398.5 973.4C397.8 974.3 395.2 977.5 394.6 978.3C393.0 978.3 386.9 978.3 385.4 978.3C384.7 979.1 382.1 982.4 381.5 983.2C379.9 983.2 373.8 983.2 372.3 983.2C371.6 984.0 369.0 987.3 368.4 988.1C366.9 988.1 360.8 988.1 359.2 988.1C358.6 988.9 356.0 992.2 355.3 993.0C353.8 993.0 347.7 993.0 346.1 993.0C345.5 993.8 342.9 997.0 342.2 997.9C340.7 997.9 334.6 997.8 333.1 997.8C332.4 998.7 329.8 1001.9 329.2 1002.7C327.6 1002.7 321.5 1002.7 320.0 1002.7C319.3 1003.5 316.7 1006.8 316.1 1007.6C314.6 1007.6 308.4 1007.6 306.9 1007.6C306.2 1008.4 303.6 1011.7 303.0 1012.5C301.5 1012.5 295.4 1012.5 293.8 1012.5C293.2 1013.3 290.6 1016.6 289.9 1017.4C288.4 1017.4 282.3 1017.4 280.7 1017.4C280.1 1018.2 277.5 1021.4 276.8 1022.3C275.3 1022.3 269.2 1022.2 267.7 1022.2C267.0 1023.1 264.4 1026.3 263.8 1027.1C262.2 1027.1 256.1 1027.1 254.6 1027.1C253.9 1027.9 251.3 1031.2 250.7 1032.0C249.1 1032.0 243.0 1032.0 241.5 1032.0C240.8 1032.8 238.2 1036.1 237.6 1036.9C236.1 1036.9 229.9 1036.9 228.4 1036.9C227.8 1037.7 225.2 1041.0 224.5 1041.8C223.0 1041.8 216.9 1041.8 215.3 1041.8C214.7 1042.6 212.1 1045.8 211.4 1046.7C209.9 1046.7 203.8 1046.6 202.3 1046.6C201.6 1047.5 199.0 1050.7 198.4 1051.5C196.8 1051.5 190.7 1051.5 189.2 1051.5C188.5 1052.3 185.9 1055.6 185.3 1056.4C183.8 1056.4 177.6 1056.4 176.1 1056.4C175.4 1057.2 172.8 1060.5 172.2 1061.3C169.6 1061.3 159.0 1061.5 156.4 1061.5C155.3 1062.0 150.9 1064.2 149.8 1064.8C148.8 1065.1 144.6 1066.1 143.5 1066.4C142.4 1066.7 139.2 1066.6 137.0 1068.0C134.8 1069.4 131.2 1073.8 130.0 1075.0C128.0 1075.0 120.0 1075.0 118.0 1075.0C118.0 1064.1 117.3 1020.7 118.0 1009.8Z" fill="url(#g2)" stroke="#808080" stroke-width="2.2" stroke-linejoin="round"/>
<filter id="bl2" x="-20%" y="-20%" width="140%" height="140%"><feGaussianBlur stdDeviation="5"/></filter><g clip-path="url(#c2all)"><g filter="url(#bl2)" fill="#303cf8">
<rect x="236" y="742" width="69" height="40" opacity="0.22"/>
<rect x="252" y="760" width="53" height="112" opacity="0.22"/>
<rect x="270" y="700" width="35" height="60" opacity="0.15"/>
<rect x="218" y="780" width="40" height="60" opacity="0.12"/>
</g></g>
<ellipse cx="215.5" cy="700.4" rx="3.6" ry="3.6" fill="#3c4cf0" stroke="#808080" stroke-width="2.0"/>
<ellipse cx="232.1" cy="706.0" rx="5.2" ry="4.2" fill="#3c4cf0" stroke="#808080" stroke-width="2.0"/>
<ellipse cx="232.9" cy="735.0" rx="3.6" ry="4.4" fill="#3c4cf0" stroke="#808080" stroke-width="2.0"/>
<ellipse cx="200.0" cy="782.5" rx="3.2" ry="3.2" fill="#3c4cf0" stroke="#808080" stroke-width="2.0"/>
<ellipse cx="198.4" cy="783.3" rx="4.3" ry="4.3" fill="#3c4cf0" stroke="#808080" stroke-width="2.0"/>
<ellipse cx="157.7" cy="872.0" rx="3.7" ry="3.7" fill="#3c4cf0" stroke="#808080" stroke-width="2.0"/>
<ellipse cx="168.6" cy="883.3" rx="4.2" ry="4.2" fill="#3c4cf0" stroke="#808080" stroke-width="2.0"/>
<ellipse cx="122.2" cy="884.0" rx="4.4" ry="4.4" fill="#3c4cf0" stroke="#808080" stroke-width="2.0"/>
<ellipse cx="123.3" cy="937.5" rx="4.0" ry="4.0" fill="#3c4cf0" stroke="#808080" stroke-width="2.0"/>
<ellipse cx="122.6" cy="966.4" rx="3.5" ry="3.5" fill="#3c4cf0" stroke="#808080" stroke-width="2.0"/>
<ellipse cx="192.3" cy="812.8" rx="5.6" ry="5.6" fill="#3c4cf0" stroke="#808080" stroke-width="2.0"/>
<ellipse cx="157.2" cy="949.1" rx="5.3" ry="5.3" fill="#3c4cf0" stroke="#808080" stroke-width="2.0"/>
<ellipse cx="157.2" cy="960.5" rx="5.3" ry="5.0" fill="#3c4cf0" stroke="#808080" stroke-width="2.0"/>
<ellipse cx="186.3" cy="872.0" rx="5.5" ry="5.5" fill="#3c4cf0" stroke="#808080" stroke-width="2.0"/>
<ellipse cx="180.9" cy="895.4" rx="5.5" ry="5.5" fill="#3c4cf0" stroke="#808080" stroke-width="2.0"/>
<path d="M290.6 716.3C291.8 715.6 295.5 715.6 297.8 715.6C300.1 715.6 303.1 715.1 304.4 716.3C305.7 717.5 305.9 720.9 305.7 722.9C305.5 724.9 304.2 726.6 303.1 728.1C302.0 729.6 300.6 730.7 299.1 732.0C297.6 733.3 295.4 734.9 293.9 736.0C292.4 737.1 291.2 738.8 289.9 738.6C288.6 738.4 287.1 736.2 286.0 734.7C284.9 733.2 284.5 730.7 283.4 729.4C282.3 728.1 279.6 727.9 279.4 726.8C279.2 725.7 280.7 723.7 282.0 722.9C283.3 722.1 285.9 722.8 287.3 722.2C288.7 721.7 290.1 720.6 290.6 719.6C291.2 718.6 289.4 717.0 290.6 716.3Z" fill="#000" stroke="#808080" stroke-width="2" stroke-linejoin="round"/>
<path d="M268.3 746.5C269.4 745.5 276.2 746.0 278.1 745.2C280.0 744.4 279.0 741.5 279.4 741.9C279.8 742.3 281.3 746.1 280.7 747.8C280.1 749.4 277.0 751.2 275.5 751.8C274.0 752.3 272.7 752.0 271.5 751.1C270.3 750.2 267.2 747.5 268.3 746.5Z" fill="#000" stroke="#808080" stroke-width="2" stroke-linejoin="round"/>
<path d="M247.9 761.6C248.1 760.5 249.6 758.5 250.5 757.0C251.4 755.5 251.4 752.6 253.1 752.4C254.8 752.2 258.8 754.3 260.4 755.7C262.0 757.1 262.9 759.2 263.0 761.0C263.1 762.8 262.2 764.9 261.0 766.2C259.8 767.5 257.3 768.8 255.8 768.8C254.3 768.8 252.9 767.1 251.8 766.2C250.7 765.3 249.8 764.4 249.2 763.6C248.5 762.8 247.7 762.7 247.9 761.6Z" fill="#000" stroke="#808080" stroke-width="2" stroke-linejoin="round"/>
<path d="M309.0 705.8C309.0 704.6 313.9 701.9 314.9 702.5C315.9 703.1 315.9 709.2 314.9 709.7C313.9 710.2 309.0 707.0 309.0 705.8Z" fill="#000" stroke="#808080" stroke-width="2" stroke-linejoin="round"/>
<circle cx="198.2" cy="831.0" r="1.5" fill="#808080"/>
<circle cx="157.2" cy="925.0" r="1.2" fill="#808080"/>
<circle cx="145.8" cy="973.0" r="2.4" fill="#808080"/>
<circle cx="489.3" cy="629.2" r="1.6" fill="#808080"/>
<circle cx="157.2" cy="924.4" r="1.2" fill="#808080"/>
<path d="M137.7 1064.4C136.6 1063.4 132.3 1060.5 131.1 1058.5C129.9 1056.5 130.4 1054.5 130.5 1052.6C130.6 1050.7 131.0 1049.1 131.8 1047.3C132.6 1045.5 135.0 1043.8 135.1 1042.0C135.2 1040.2 132.5 1038.6 132.5 1036.8C132.5 1035.0 134.0 1032.7 135.1 1030.9C136.2 1029.2 138.0 1027.8 139.0 1026.3C140.0 1024.8 141.1 1023.6 141.0 1021.7C140.9 1019.8 138.5 1016.8 138.4 1015.1C138.3 1013.5 138.7 1012.7 140.3 1011.8C141.9 1010.9 145.9 1010.8 148.2 1009.9C150.5 1009.0 152.4 1008.8 154.1 1006.6C155.8 1004.4 157.4 999.7 158.3 996.6C159.2 993.5 158.3 990.6 159.4 987.9C160.5 985.2 162.5 982.8 164.9 980.2C167.3 977.7 171.4 975.2 173.6 972.6C175.8 970.0 175.8 966.5 178.0 964.9C180.2 963.2 185.3 963.6 186.8 962.7C188.3 961.8 188.1 960.3 186.8 959.4C185.5 958.5 180.2 958.3 179.1 957.2C178.0 956.1 178.9 953.7 180.2 952.8C181.5 951.9 184.8 953.1 186.8 951.8C188.8 950.5 191.8 946.9 192.3 945.2C192.9 943.6 191.6 943.0 190.1 941.9C188.6 940.8 183.9 939.9 183.5 938.6C183.1 937.3 185.7 934.6 187.9 934.2C190.1 933.8 194.4 937.1 196.6 936.4C198.8 935.7 199.7 932.6 201.0 929.9C202.3 927.2 204.5 922.8 204.3 920.1C204.1 917.4 200.3 915.4 199.9 913.6C199.5 911.8 200.4 910.5 202.1 909.2C203.8 907.9 207.8 907.7 209.8 905.9C211.8 904.1 213.6 901.3 214.2 898.2C214.8 895.1 214.0 891.3 213.1 887.3C212.2 883.3 210.2 877.9 208.7 874.2C207.2 870.6 206.5 867.2 204.3 865.4C202.1 863.6 197.0 864.5 195.5 863.2C194.0 861.9 193.8 859.0 195.5 857.7C197.2 856.4 202.7 856.4 205.4 855.5C208.2 854.6 211.3 853.9 212.0 852.3C212.7 850.7 210.9 847.5 209.8 845.7C208.7 843.9 205.8 843.1 205.4 841.3C205.0 839.5 205.8 836.3 207.6 834.7C209.4 833.1 214.1 833.1 216.3 831.5C218.5 829.9 220.7 826.2 220.7 824.9C220.7 823.6 217.9 824.9 216.3 823.8C214.7 822.7 210.7 820.8 210.9 818.3C211.1 815.8 215.6 811.6 217.4 808.5C219.2 805.4 220.7 803.0 221.8 799.7C222.9 796.4 224.1 791.8 224.0 788.8C223.9 785.8 220.4 783.2 221.0 781.5C221.6 779.8 224.5 779.0 227.4 778.5C230.3 778.0 235.8 777.8 238.3 778.5C240.9 779.2 241.2 783.3 242.7 782.9C244.2 782.5 245.6 778.1 247.1 776.3C248.6 774.5 249.9 772.2 251.5 772.0C253.1 771.8 255.1 775.6 256.9 775.2C258.7 774.8 260.6 770.7 262.4 769.8C264.2 768.9 266.6 770.7 267.9 769.8C269.2 768.9 270.5 766.1 270.1 764.3C269.7 762.5 266.1 760.4 265.7 758.8C265.3 757.1 266.4 754.8 267.9 754.4C269.3 754.0 271.1 756.4 274.4 756.6C277.7 756.8 283.6 756.4 287.6 755.5C291.6 754.6 295.6 752.8 298.5 751.2C301.4 749.6 304.4 747.7 305.1 745.7C305.8 743.7 302.9 741.5 302.9 739.1C302.9 736.7 303.8 733.8 305.1 731.4C306.4 729.0 309.3 726.9 310.6 724.9C311.9 722.9 311.5 720.9 312.8 719.4C314.1 717.9 317.5 717.9 318.2 716.1C318.9 714.3 316.6 710.5 317.1 708.5C317.7 706.5 318.9 705.1 321.5 704.2C324.1 703.3 328.9 703.5 332.4 703.1C335.9 702.7 340.1 702.9 342.3 702.0C344.5 701.1 346.2 698.5 345.5 697.6C344.8 696.7 339.7 697.2 337.9 696.5C336.1 695.8 334.2 694.7 334.6 693.2C335.0 691.7 338.2 688.6 340.0 687.7C341.8 686.8 344.0 686.6 345.5 687.7C347.0 688.8 347.3 694.1 348.8 694.3C350.3 694.5 352.3 690.8 354.3 688.8C356.3 686.8 358.9 683.8 360.9 682.3C362.9 680.8 364.5 679.6 366.3 680.1C368.1 680.6 370.3 685.7 371.8 685.5C373.3 685.3 373.5 680.6 375.1 679.0C376.8 677.4 379.3 676.4 381.7 675.7C384.1 675.0 386.9 675.9 389.3 674.6C391.7 673.3 393.5 669.6 395.9 668.0C398.3 666.4 401.6 664.9 403.6 664.7C405.6 664.5 406.6 667.1 408.0 666.7C409.4 666.3 410.1 663.0 411.8 662.5C413.5 662.0 416.4 664.5 418.4 663.9C420.4 663.2 421.4 660.1 423.6 658.6C425.8 657.1 428.4 655.8 431.5 654.7C434.6 653.6 438.9 652.7 442.0 652.0C445.1 651.3 447.7 651.8 449.9 650.7C452.1 649.6 452.8 646.8 455.2 645.5C457.6 644.2 461.3 642.6 464.4 642.8C467.5 643.0 471.2 646.3 473.6 646.8C476.0 647.2 477.3 644.2 478.8 645.5C480.3 646.8 481.3 653.6 482.8 654.7C484.3 655.8 486.5 653.1 488.0 652.0C489.5 650.9 490.5 648.3 492.0 648.1C493.5 647.9 495.9 649.0 497.2 650.7C498.5 652.5 498.3 657.1 499.8 658.6C501.3 660.1 505.5 661.4 506.4 659.9C507.3 658.4 505.3 652.2 505.1 649.4C504.9 646.5 504.5 644.1 505.1 642.8C505.8 641.5 507.8 640.6 509.0 641.5C510.2 642.4 512.0 645.9 512.5 648.1C513.0 650.3 511.3 652.3 511.7 654.7C512.1 657.1 514.5 657.2 515.1 662.5C515.8 667.8 514.4 680.9 515.6 686.2C516.8 691.5 520.0 691.2 522.2 694.1C524.4 697.0 524.6 701.8 528.7 703.3C532.9 704.8 539.2 703.8 547.1 703.3C555.0 702.8 571.2 700.9 576.0 700.4" fill="none" stroke="#fff" stroke-width="2.2" stroke-linejoin="round" stroke-linecap="round"/>
<path d="M576.0 745.2C573.3 745.4 563.4 745.6 559.6 746.6C555.8 747.6 555.1 750.0 553.0 751.0C550.9 752.0 548.9 751.5 547.2 752.4C545.5 753.2 544.3 754.8 542.8 756.1C541.3 757.4 539.0 758.7 538.4 760.4C537.8 762.1 538.2 764.6 539.1 766.3C540.0 768.0 543.1 769.5 543.5 770.7C543.9 771.9 542.6 773.0 541.3 773.6C540.0 774.2 537.0 773.1 535.5 774.3C534.0 775.5 533.5 779.3 532.6 780.9C531.8 782.5 530.6 782.1 530.4 783.8C530.1 785.5 531.1 788.8 531.1 791.1C531.1 793.4 531.6 796.1 530.4 797.7C529.2 799.3 524.5 799.5 523.8 800.6C523.1 801.7 525.5 802.4 526.0 804.2C526.5 806.0 527.3 809.3 526.7 811.5C526.1 813.7 523.1 815.0 522.3 817.4C521.4 819.8 521.8 823.7 521.6 826.1C521.4 828.5 521.9 830.3 520.9 832.0C519.9 833.7 516.6 835.7 515.8 836.4C515.8 851.5 515.5 911.8 515.5 926.9" fill="none" stroke="#fff" stroke-width="2.2" stroke-linejoin="round" stroke-linecap="round"/>
<path d="M515.5 926.9L514.6 926.5L510.7 931.4L501.5 931.4L497.6 936.3L488.4 936.3L484.5 941.2L475.3 941.2L471.4 946.1L462.3 946.0L458.4 950.9L449.2 950.9L445.3 955.8L436.1 955.8L432.2 960.7L423.0 960.7L419.1 965.6L409.9 965.6L406.0 970.5L396.9 970.4L393.0 975.3L383.8 975.3L379.9 980.2L370.7 980.2L366.8 985.1L357.6 985.1L353.7 990.0L344.5 990.0L340.6 994.9L331.5 994.8L327.6 999.7L318.4 999.7L314.5 1004.6L305.3 1004.6L301.4 1009.5L292.2 1009.5L288.3 1014.4L279.1 1014.4L275.2 1019.3L266.1 1019.2L262.2 1024.1L253.0 1024.1L249.1 1029.0L239.9 1029.0L236.0 1033.9L226.8 1033.9L222.9 1038.8L213.7 1038.8L209.8 1043.7L200.7 1043.6L196.8 1048.5L187.6 1048.5L183.7 1053.4L174.5 1053.4L170.6 1058.3L154.8 1058.5L148.2 1061.8L141.9 1063.4" fill="none" stroke="#fff" stroke-width="2.2" stroke-linejoin="round" stroke-linecap="round"/>
<ellipse cx="262.8" cy="738.0" rx="3.6" ry="9.5" transform="rotate(-8 262.8 738.0)" fill="none" stroke="#fff" stroke-width="2.2" stroke-linejoin="round" stroke-linecap="round"/>
<ellipse cx="282.8" cy="742.6" rx="4.2" ry="9.5" transform="rotate(-28 282.8 742.6)" fill="none" stroke="#fff" stroke-width="2.2" stroke-linejoin="round" stroke-linecap="round"/>
<ellipse cx="282.1" cy="718.3" rx="5.6" ry="2.7" transform="rotate(-5 282.1 718.3)" fill="none" stroke="#fff" stroke-width="2.2" stroke-linejoin="round" stroke-linecap="round"/>
<ellipse cx="273.8" cy="724.9" rx="2.3" ry="2.3" transform="rotate(0 273.8 724.9)" fill="none" stroke="#fff" stroke-width="2.2" stroke-linejoin="round" stroke-linecap="round"/>
<ellipse cx="302.9" cy="706.7" rx="2.7" ry="2.7" transform="rotate(0 302.9 706.7)" fill="none" stroke="#fff" stroke-width="2.2" stroke-linejoin="round" stroke-linecap="round"/>
<ellipse cx="309.0" cy="736.9" rx="3.0" ry="2.2" transform="rotate(0 309.0 736.9)" fill="none" stroke="#fff" stroke-width="2.2" stroke-linejoin="round" stroke-linecap="round"/>
<ellipse cx="299.6" cy="743.5" rx="2.3" ry="2.3" transform="rotate(0 299.6 743.5)" fill="none" stroke="#fff" stroke-width="2.2" stroke-linejoin="round" stroke-linecap="round"/>
<ellipse cx="239.0" cy="748.3" rx="2.9" ry="2.9" transform="rotate(0 239.0 748.3)" fill="none" stroke="#fff" stroke-width="2.2" stroke-linejoin="round" stroke-linecap="round"/>
<ellipse cx="227.4" cy="753.8" rx="2.2" ry="2.2" transform="rotate(0 227.4 753.8)" fill="none" stroke="#fff" stroke-width="2.2" stroke-linejoin="round" stroke-linecap="round"/>
<ellipse cx="215.8" cy="795.0" rx="3.7" ry="2.7" transform="rotate(0 215.8 795.0)" fill="none" stroke="#fff" stroke-width="2.2" stroke-linejoin="round" stroke-linecap="round"/>
<ellipse cx="258.7" cy="785.1" rx="3.2" ry="4.4" transform="rotate(-25 258.7 785.1)" fill="none" stroke="#fff" stroke-width="2.2" stroke-linejoin="round" stroke-linecap="round"/>
<ellipse cx="252.8" cy="797.1" rx="3.6" ry="3.2" transform="rotate(-20 252.8 797.1)" fill="none" stroke="#fff" stroke-width="2.2" stroke-linejoin="round" stroke-linecap="round"/>
<ellipse cx="292.6" cy="816.0" rx="1.5" ry="9.5" transform="rotate(0 292.6 816.0)" fill="none" stroke="#fff" stroke-width="2.2" stroke-linejoin="round" stroke-linecap="round"/>
<ellipse cx="233.5" cy="769.0" rx="8.8" ry="5.6" transform="rotate(-35 233.5 769.0)" fill="none" stroke="#fff" stroke-width="2.2" stroke-linejoin="round" stroke-linecap="round"/>
<ellipse cx="331.0" cy="712.0" rx="7.5" ry="2.6" transform="rotate(-8 331.0 712.0)" fill="none" stroke="#fff" stroke-width="2.2" stroke-linejoin="round" stroke-linecap="round"/>
<ellipse cx="282.0" cy="718.0" rx="5.0" ry="3.0" transform="rotate(0 282.0 718.0)" fill="none" stroke="#fff" stroke-width="2.2" stroke-linejoin="round" stroke-linecap="round"/>
<ellipse cx="273.3" cy="724.3" rx="2.8" ry="2.8" transform="rotate(0 273.3 724.3)" fill="none" stroke="#fff" stroke-width="2.2" stroke-linejoin="round" stroke-linecap="round"/>
<ellipse cx="309.0" cy="736.6" rx="3.0" ry="2.2" transform="rotate(0 309.0 736.6)" fill="none" stroke="#fff" stroke-width="2.2" stroke-linejoin="round" stroke-linecap="round"/>
<ellipse cx="298.5" cy="742.5" rx="3.0" ry="2.2" transform="rotate(0 298.5 742.5)" fill="none" stroke="#fff" stroke-width="2.2" stroke-linejoin="round" stroke-linecap="round"/>
<ellipse cx="283.0" cy="742.5" rx="3.8" ry="8.0" transform="rotate(-20 283.0 742.5)" fill="none" stroke="#fff" stroke-width="2.2" stroke-linejoin="round" stroke-linecap="round"/>
<ellipse cx="215.7" cy="794.9" rx="3.9" ry="3.4" transform="rotate(0 215.7 794.9)" fill="none" stroke="#fff" stroke-width="2.2" stroke-linejoin="round" stroke-linecap="round"/>
<ellipse cx="192.3" cy="812.8" rx="3.4" ry="3.4" transform="rotate(0 192.3 812.8)" fill="none" stroke="#fff" stroke-width="2.2" stroke-linejoin="round" stroke-linecap="round"/>
<ellipse cx="203.6" cy="847.9" rx="3.2" ry="3.2" transform="rotate(0 203.6 847.9)" fill="none" stroke="#fff" stroke-width="2.2" stroke-linejoin="round" stroke-linecap="round"/>
<ellipse cx="186.3" cy="872.0" rx="3.4" ry="3.4" transform="rotate(0 186.3 872.0)" fill="none" stroke="#fff" stroke-width="2.2" stroke-linejoin="round" stroke-linecap="round"/>
<ellipse cx="180.9" cy="895.4" rx="3.4" ry="3.4" transform="rotate(0 180.9 895.4)" fill="none" stroke="#fff" stroke-width="2.2" stroke-linejoin="round" stroke-linecap="round"/>
<ellipse cx="180.2" cy="912.5" rx="2.8" ry="3.9" transform="rotate(0 180.2 912.5)" fill="none" stroke="#fff" stroke-width="2.2" stroke-linejoin="round" stroke-linecap="round"/>
<ellipse cx="192.3" cy="914.7" rx="3.2" ry="4.9" transform="rotate(0 192.3 914.7)" fill="none" stroke="#fff" stroke-width="2.2" stroke-linejoin="round" stroke-linecap="round"/>
<ellipse cx="221.2" cy="882.9" rx="1.3" ry="2.9" transform="rotate(0 221.2 882.9)" fill="none" stroke="#fff" stroke-width="2.2" stroke-linejoin="round" stroke-linecap="round"/>
<ellipse cx="221.2" cy="898.2" rx="2.3" ry="4.4" transform="rotate(0 221.2 898.2)" fill="none" stroke="#fff" stroke-width="2.2" stroke-linejoin="round" stroke-linecap="round"/>
<ellipse cx="157.2" cy="949.1" rx="3.2" ry="3.2" transform="rotate(0 157.2 949.1)" fill="none" stroke="#fff" stroke-width="2.2" stroke-linejoin="round" stroke-linecap="round"/>
<ellipse cx="157.2" cy="960.5" rx="3.2" ry="2.7" transform="rotate(0 157.2 960.5)" fill="none" stroke="#fff" stroke-width="2.2" stroke-linejoin="round" stroke-linecap="round"/>
<ellipse cx="146.3" cy="1002.1" rx="2.5" ry="3.4" transform="rotate(0 146.3 1002.1)" fill="none" stroke="#fff" stroke-width="2.2" stroke-linejoin="round" stroke-linecap="round"/>
<ellipse cx="133.1" cy="1065.0" rx="1.5" ry="2.5" transform="rotate(0 133.1 1065.0)" fill="none" stroke="#fff" stroke-width="2.2" stroke-linejoin="round" stroke-linecap="round"/>
<ellipse cx="495.1" cy="671.0" rx="1.9" ry="1.9" transform="rotate(0 495.1 671.0)" fill="none" stroke="#fff" stroke-width="2.2" stroke-linejoin="round" stroke-linecap="round"/>
<ellipse cx="302.8" cy="706.3" rx="2.8" ry="2.8" transform="rotate(0 302.8 706.3)" fill="none" stroke="#fff" stroke-width="2.2" stroke-linejoin="round" stroke-linecap="round"/>
<circle cx="262.4" cy="800.9" r="1.6" fill="#fff"/>
<circle cx="268.5" cy="812.9" r="1.3" fill="#fff"/>
<circle cx="377.7" cy="688.8" r="1.3" fill="#fff"/>
<circle cx="366.3" cy="705.9" r="2.0" fill="#fff"/>
<circle cx="197.7" cy="843.0" r="2.0" fill="#fff"/>
<circle cx="197.7" cy="878.0" r="1.3" fill="#fff"/>
<circle cx="209.8" cy="913.6" r="1.2" fill="#fff"/>
<circle cx="506.4" cy="677.0" r="1.8" fill="#fff"/>
<circle cx="309.0" cy="717.7" r="1.3" fill="#fff"/>
<path d="M121.3 1039.4C124.6 1044.7 125.2 1052.6 125.9 1059.1C125 1062 123 1064 121.3 1065" fill="none" stroke="#fff" stroke-width="2.2" stroke-linejoin="round" stroke-linecap="round"/>
<path d="M157.2 658.6C159.6 660.2 166.8 665.1 171.5 668.0C176.2 670.9 179.7 673.0 185.7 676.1C191.7 679.2 200.3 683.3 207.6 686.6C214.9 689.9 222.2 693.4 229.5 696.1C236.8 698.9 244.7 701.0 251.4 703.1C258.1 705.2 261.9 706.6 270.0 708.5C278.1 710.4 290.0 712.8 300.0 714.6C310.0 716.4 320.0 718.0 330.0 719.2C340.0 720.4 348.3 721.1 360.0 721.6C371.7 722.1 388.9 722.3 400.0 722.5C411.1 722.7 417.6 723.0 426.3 723.0C435.1 723.0 443.8 722.6 452.5 722.2C461.2 721.8 470.0 720.9 478.8 720.4C487.6 719.9 496.3 719.5 505.1 719.0C513.9 718.5 522.6 717.9 531.4 717.2C540.1 716.5 550.8 715.3 557.6 714.6C564.4 713.9 569.7 713.3 572.1 713.0" fill="none" stroke="#ffa000" stroke-width="2.1"/>
</g>
<path d="M179.50 610.00v19.4M179.50 1069.20v-19.4M376.10 610.00v19.4M376.10 1069.20v-19.4M135.88 610.00v9.3M135.88 1069.20v-9.3M149.05 610.00v9.3M149.05 1069.20v-9.3M160.45 610.00v9.3M160.45 1069.20v-9.3M170.50 610.00v9.3M170.50 1069.20v-9.3M238.68 610.00v9.3M238.68 1069.20v-9.3M273.30 610.00v9.3M273.30 1069.20v-9.3M297.86 610.00v9.3M297.86 1069.20v-9.3M316.92 610.00v9.3M316.92 1069.20v-9.3M332.48 610.00v9.3M332.48 1069.20v-9.3M345.65 610.00v9.3M345.65 1069.20v-9.3M357.05 610.00v9.3M357.05 1069.20v-9.3M367.10 610.00v9.3M367.10 1069.20v-9.3M435.28 610.00v9.3M435.28 1069.20v-9.3M469.90 610.00v9.3M469.90 1069.20v-9.3M494.46 610.00v9.3M494.46 1069.20v-9.3M513.52 610.00v9.3M513.52 1069.20v-9.3M529.08 610.00v9.3M529.08 1069.20v-9.3M542.25 610.00v9.3M542.25 1069.20v-9.3M553.65 610.00v9.3M553.65 1069.20v-9.3M563.70 610.00v9.3M563.70 1069.20v-9.3M121.20 649.40h19.4M571.80 649.40h-19.4M121.20 730.04h19.4M571.80 730.04h-19.4M121.20 810.68h19.4M571.80 810.68h-19.4M121.20 891.32h19.4M571.80 891.32h-19.4M121.20 971.96h19.4M571.80 971.96h-19.4M121.20 1052.60h19.4M571.80 1052.60h-19.4M121.20 1032.44h9.3M571.80 1032.44h-9.3M121.20 1012.28h9.3M571.80 1012.28h-9.3M121.20 992.12h9.3M571.80 992.12h-9.3M121.20 951.80h9.3M571.80 951.80h-9.3M121.20 931.64h9.3M571.80 931.64h-9.3M121.20 911.48h9.3M571.80 911.48h-9.3M121.20 871.16h9.3M571.80 871.16h-9.3M121.20 851.00h9.3M571.80 851.00h-9.3M121.20 830.84h9.3M571.80 830.84h-9.3M121.20 790.52h9.3M571.80 790.52h-9.3M121.20 770.36h9.3M571.80 770.36h-9.3M121.20 750.20h9.3M571.80 750.20h-9.3M121.20 709.88h9.3M571.80 709.88h-9.3M121.20 689.72h9.3M571.80 689.72h-9.3M121.20 669.56h9.3M571.80 669.56h-9.3M121.20 629.24h9.3M571.80 629.24h-9.3" stroke="#fff" stroke-width="1.7" fill="none"/>
<g font-family="Liberation Serif, serif" font-size="28" fill="#fff">
<text x="360.3" y="1003.2" textLength="112" lengthAdjust="spacingAndGlyphs">s-channel</text>
<text x="360.3" y="1023.9" textLength="193.4" lengthAdjust="spacingAndGlyphs">vector-mediated</text>
<text x="360.3" y="1047.4" textLength="121" lengthAdjust="spacingAndGlyphs">Dirac DM</text>
</g>
<g font-size="29" fill="#ffa000" stroke="#ffa000" stroke-width="0.45" font-family="Liberation Serif, serif"><text x="377.2" y="746.6" textLength="55.6" lengthAdjust="spacingAndGlyphs">CTA</text><text x="445.4" y="746.6" textLength="39.2" lengthAdjust="spacingAndGlyphs">GC</text></g>
<use href="#gambit" transform="translate(261.4 1044.2) scale(0.86) translate(-125.7 -452.7)"/>
<path d="M59.1 650.25h17" stroke="#000" stroke-width="1.15"/>
<text x="78.6" y="658.25" font-size="28.6" textLength="27.8" lengthAdjust="spacingAndGlyphs" font-family="Liberation Serif, serif">24</text>
<path d="M59.1 730.89h17" stroke="#000" stroke-width="1.15"/>
<text x="78.6" y="738.89" font-size="28.6" textLength="27.8" lengthAdjust="spacingAndGlyphs" font-family="Liberation Serif, serif">26</text>
<path d="M59.1 811.53h17" stroke="#000" stroke-width="1.15"/>
<text x="78.6" y="819.53" font-size="28.6" textLength="27.8" lengthAdjust="spacingAndGlyphs" font-family="Liberation Serif, serif">28</text>
<path d="M59.1 892.17h17" stroke="#000" stroke-width="1.15"/>
<text x="78.6" y="900.17" font-size="28.6" textLength="27.8" lengthAdjust="spacingAndGlyphs" font-family="Liberation Serif, serif">30</text>
<path d="M59.1 972.81h17" stroke="#000" stroke-width="1.15"/>
<text x="78.6" y="980.81" font-size="28.6" textLength="27.8" lengthAdjust="spacingAndGlyphs" font-family="Liberation Serif, serif">32</text>
<path d="M59.1 1053.45h17" stroke="#000" stroke-width="1.15"/>
<text x="78.6" y="1061.45" font-size="28.6" textLength="27.8" lengthAdjust="spacingAndGlyphs" font-family="Liberation Serif, serif">34</text>
<g font-family="Liberation Serif, serif" font-size="20.6">
<text x="287" y="603.9" textLength="68" lengthAdjust="spacingAndGlyphs">Capped</text>
<use href="#scrL" x="364.4" y="603.9" stroke="#000" stroke-width="1.45"/>
<text x="379" y="607.3" font-size="14.3" textLength="35" lengthAdjust="spacingAndGlyphs">LHC</text>
<text x="414.8" y="603.9">,</text>
<text x="427" y="603.9" textLength="15" lengthAdjust="spacingAndGlyphs">Ω</text>
<text x="442.8" y="607.3" font-size="14.3" textLength="25.6" lengthAdjust="spacingAndGlyphs">DM</text>
<text x="476.6" y="603.9" textLength="16" lengthAdjust="spacingAndGlyphs">≤</text>
<text x="499" y="603.9" textLength="15" lengthAdjust="spacingAndGlyphs">Ω</text>
<text x="515" y="607.3" font-size="14.3" textLength="56" lengthAdjust="spacingAndGlyphs">DM,obs</text>
</g>
<use href="#cbar" y="610.0"/>
<use href="#xax" y="610.0"/>
<use href="#yax" y="610.0"/>
<!-- panel 3 -->
<rect x="121.2" y="1197.0" width="450.6" height="459.2" fill="#000"/>
<clipPath id="clip2"><rect x="121.2" y="1197.0" width="450.6" height="459.2"/></clipPath>
<g clip-path="url(#clip2)">
<linearGradient id="g3a" gradientUnits="userSpaceOnUse" x1="121.0" y1="1320.0" x2="572.0" y2="1262.0" ><stop offset="0.0000" stop-color="#add8e6"/><stop offset="0.0732" stop-color="#9cc2e8"/><stop offset="0.1463" stop-color="#82a2ec"/><stop offset="0.2195" stop-color="#647df0"/><stop offset="0.2905" stop-color="#4c5ff4"/><stop offset="0.3636" stop-color="#3e4ef6"/><stop offset="0.4213" stop-color="#3745f7"/><stop offset="0.5100" stop-color="#303cf8"/><stop offset="0.5831" stop-color="#232bfa"/><stop offset="0.6563" stop-color="#0000f3"/><stop offset="0.7295" stop-color="#0000d8"/><stop offset="0.8736" stop-color="#0000cc"/><stop offset="1.0000" stop-color="#0000c7"/></linearGradient><linearGradient id="g3b" gradientUnits="userSpaceOnUse" x1="121.0" y1="1500.0" x2="572.0" y2="1470.0" ><stop offset="0.0000" stop-color="#7693ee"/><stop offset="0.0643" stop-color="#6179f1"/><stop offset="0.1286" stop-color="#4a5df4"/><stop offset="0.1973" stop-color="#303cf8"/><stop offset="0.2594" stop-color="#181efc"/><stop offset="0.3304" stop-color="#0304fe"/><stop offset="0.3747" stop-color="#0000fa"/><stop offset="0.4523" stop-color="#0000e8"/><stop offset="0.5188" stop-color="#0000d3"/><stop offset="0.5854" stop-color="#0000c0"/><stop offset="0.6475" stop-color="#0000b0"/><stop offset="0.7738" stop-color="#00009e"/><stop offset="0.8847" stop-color="#000097"/><stop offset="1.0000" stop-color="#000094"/></linearGradient><linearGradient id="g3c" gradientUnits="userSpaceOnUse" x1="430" y1="1213.3" x2="394.9" y2="1338.5"><stop offset="0.0000" stop-color="#0000c5"/><stop offset="0.0963" stop-color="#0000cc"/><stop offset="0.2963" stop-color="#0000e8"/><stop offset="0.3778" stop-color="#0a0dfe"/><stop offset="0.5259" stop-color="#2a34f9"/><stop offset="0.5926" stop-color="#3b49f6"/><stop offset="0.6593" stop-color="#4a5df4"/><stop offset="0.7259" stop-color="#647df0"/><stop offset="0.7852" stop-color="#80a0ec"/><stop offset="0.8519" stop-color="#9cc2e8"/><stop offset="1.0000" stop-color="#a3cbe8"/></linearGradient>
<linearGradient id="g3d" gradientUnits="userSpaceOnUse" x1="125" y1="1665" x2="190" y2="1545">
<stop offset="0" stop-color="#b4e0f0" stop-opacity="1"/><stop offset="0.25" stop-color="#a0c8f0" stop-opacity="0.7"/><stop offset="0.6" stop-color="#88a8f2" stop-opacity="0.25"/><stop offset="1" stop-color="#88a8f2" stop-opacity="0"/></linearGradient>
<linearGradient id="m3g" gradientUnits="userSpaceOnUse" x1="0" y1="1362" x2="0" y2="1415"><stop offset="0" stop-color="#fff"/><stop offset="1" stop-color="#000"/></linearGradient>
<mask id="m3" maskUnits="userSpaceOnUse" x="110" y="1200" width="480" height="230"><rect x="110" y="1200" width="480" height="230" fill="url(#m3g)"/></mask>
<radialGradient id="g3e" gradientUnits="userSpaceOnUse" cx="285" cy="1575" r="45" gradientTransform="translate(285 1575) scale(0.75 1.15) translate(-285 -1575)"><stop offset="0" stop-color="#3248f2" stop-opacity="0.75"/><stop offset="0.6" stop-color="#2a3cf0" stop-opacity="0.45"/><stop offset="1" stop-color="#2a3cf0" stop-opacity="0"/></radialGradient>
<clipPath id="c3all"><path d="M116.0 1256.0C116.9 1188.0 119.8 1255.7 121.3 1254.1C122.8 1252.5 123.5 1248.8 125.3 1246.2C127.0 1243.6 129.2 1240.6 131.8 1238.4C134.4 1236.2 137.7 1234.4 141.0 1233.1C144.3 1231.8 146.2 1231.2 151.5 1230.5C156.8 1229.8 147.8 1229.5 172.5 1229.2C197.2 1228.9 232.4 1228.8 300.0 1228.6C367.6 1228.4 531.7 1228.3 578.0 1228.3C578.0 1230.8 578.0 1241.0 578.0 1243.5C576.8 1243.7 572.8 1243.8 570.8 1244.5C568.8 1245.2 567.8 1246.1 566.0 1248.0C564.2 1249.9 561.3 1253.2 560.0 1256.0C558.7 1258.8 558.4 1257.7 558.0 1265.0C557.6 1272.3 557.7 1294.2 557.6 1300.0C557.6 1305.2 557.4 1324.8 557.6 1331.0C557.8 1337.2 559.1 1335.2 559.0 1337.0C558.9 1338.8 557.4 1337.6 557.2 1342.0C557.0 1346.4 558.0 1358.4 557.6 1363.5C557.2 1368.6 556.4 1370.3 555.0 1372.5C553.6 1374.7 555.1 1375.6 549.0 1376.5C542.9 1377.4 523.5 1377.6 518.4 1377.8C518.4 1384.9 518.4 1413.7 518.4 1420.5C518.4 1427.3 517.4 1417.8 518.2 1418.8C519.1 1419.8 521.5 1424.8 523.5 1426.5C525.5 1428.2 527.1 1428.6 530.3 1429.0C533.6 1429.5 540.0 1428.1 543.0 1429.1C546.0 1430.2 547.1 1433.0 548.6 1435.4C550.1 1437.7 552.1 1440.8 552.0 1443.1C551.9 1445.4 548.2 1447.6 548.0 1449.2C547.8 1450.9 550.6 1451.1 550.6 1452.9C550.7 1454.6 549.5 1458.0 548.3 1459.6C547.1 1461.2 544.6 1461.0 543.4 1462.3C542.2 1463.6 541.4 1464.8 541.2 1467.4C541.0 1470.0 541.4 1475.3 542.2 1477.7C543.1 1480.1 545.5 1479.7 546.3 1481.7C547.1 1483.7 547.2 1487.5 546.9 1489.9C546.6 1492.3 544.4 1494.3 544.4 1496.0C544.4 1497.7 546.4 1498.4 547.0 1500.1C547.6 1501.8 548.5 1504.2 548.2 1506.3C547.9 1508.3 545.9 1511.1 545.0 1512.4C544.1 1513.8 543.2 1511.9 542.8 1514.4C542.4 1516.9 543.5 1523.7 542.8 1527.1C542.0 1530.6 540.4 1534.3 538.3 1535.2C536.2 1536.1 531.8 1534.0 530.1 1532.7C528.4 1531.4 529.4 1527.7 528.4 1527.3C527.3 1527.0 524.6 1530.1 523.7 1530.7C522.8 1531.4 522.2 1530.7 523.0 1531.3C523.7 1531.9 528.0 1532.6 528.4 1534.2C528.8 1535.8 525.7 1539.5 525.5 1541.0C525.3 1542.5 525.6 1541.8 527.4 1542.9C529.3 1544.1 534.3 1546.2 536.6 1548.1C539.0 1550.0 540.6 1551.7 541.6 1554.3C542.6 1556.9 543.0 1560.9 542.8 1563.7C542.6 1566.4 541.5 1568.7 540.5 1570.8C539.5 1572.9 536.8 1574.9 536.7 1576.1C536.5 1577.2 538.9 1576.0 539.6 1577.7C540.2 1579.4 541.7 1584.4 540.4 1586.4C539.1 1588.4 535.0 1589.9 531.7 1589.7C528.3 1589.4 522.3 1586.8 520.1 1585.0C517.8 1583.1 519.5 1578.7 518.2 1578.5C516.9 1578.2 514.5 1582.8 512.3 1583.5C510.0 1584.2 506.4 1583.1 504.7 1582.5C502.9 1581.9 503.0 1579.2 501.7 1580.1C500.4 1581.1 499.1 1586.8 496.8 1588.2C494.5 1589.6 490.4 1589.2 488.1 1588.5C485.8 1587.9 484.6 1585.3 483.0 1584.5C481.5 1583.6 479.1 1582.9 478.9 1583.6C478.6 1584.3 482.1 1586.5 481.4 1588.7C480.7 1590.8 476.4 1595.9 474.6 1596.8C472.7 1597.6 471.7 1593.3 470.3 1593.7C469.0 1594.1 468.0 1599.0 466.3 1598.9C464.7 1598.7 461.7 1592.8 460.4 1592.8C459.1 1592.8 460.2 1597.8 458.6 1598.6C457.0 1599.5 452.9 1597.4 450.8 1597.8C448.7 1598.3 447.9 1599.4 446.0 1601.3C444.1 1603.1 443.0 1607.1 439.4 1609.1C435.8 1611.0 428.3 1612.5 424.3 1612.9C420.4 1613.2 419.7 1610.6 415.7 1611.2C411.7 1611.7 405.8 1615.2 400.2 1616.3C394.5 1617.5 386.6 1618.8 381.7 1618.2C376.7 1617.6 374.1 1614.2 370.5 1612.7C366.8 1611.2 363.4 1610.6 360.0 1609.2C356.5 1607.8 352.0 1604.9 349.7 1604.1C347.3 1603.2 347.6 1603.3 346.0 1604.0C344.5 1604.7 342.3 1606.0 340.3 1608.3C338.3 1610.5 336.8 1616.4 334.2 1617.4C331.5 1618.4 327.5 1614.9 324.3 1614.2C321.1 1613.6 317.6 1612.9 315.0 1613.7C312.3 1614.5 310.8 1617.8 308.2 1619.3C305.6 1620.7 302.0 1620.9 299.4 1622.2C296.9 1623.6 294.3 1627.5 292.8 1627.1C291.3 1626.8 290.8 1621.3 290.3 1620.2C289.8 1619.1 290.4 1619.3 289.6 1620.5C288.8 1621.7 287.2 1625.7 285.5 1627.5C283.9 1629.3 283.5 1630.4 279.6 1631.2C275.7 1632.1 266.2 1631.8 262.2 1632.7C258.3 1633.6 258.0 1635.0 256.0 1636.6C253.9 1638.3 252.1 1641.4 250.0 1642.6C247.9 1643.7 245.6 1644.4 243.3 1643.8C240.9 1643.2 237.4 1639.8 235.7 1639.0C234.0 1638.1 235.0 1637.8 233.2 1638.5C231.4 1639.1 227.1 1643.1 225.0 1643.0C222.8 1642.9 221.5 1638.2 220.2 1638.0C219.0 1637.7 219.9 1640.3 217.3 1641.3C214.7 1642.3 207.9 1642.0 204.7 1644.1C201.4 1646.2 200.3 1651.9 197.7 1654.0C195.1 1656.0 191.0 1657.1 189.0 1656.5C187.0 1655.9 187.7 1650.3 185.7 1650.3C183.7 1650.3 178.9 1656.7 176.9 1656.7C174.9 1656.7 174.8 1650.4 173.8 1650.3C172.7 1650.2 173.1 1655.2 170.6 1655.9C168.1 1656.7 161.5 1656.7 159.0 1654.8C156.6 1652.8 156.9 1644.9 155.9 1644.1C154.9 1643.2 155.8 1648.6 152.9 1649.6C149.9 1650.6 142.4 1649.1 138.2 1650.2C134.0 1651.3 129.8 1654.2 127.5 1656.1C125.2 1658.0 126.2 1660.5 124.3 1661.4C122.4 1662.4 117.4 1661.9 116.0 1662.0C116.0 1594.3 115.1 1324.0 116.0 1256.0Z"/></clipPath>
<filter id="bl3" x="-30%" y="-30%" width="160%" height="160%"><feGaussianBlur stdDeviation="2.6"/></filter><filter id="bl3b" x="-50%" y="-50%" width="200%" height="200%"><feGaussianBlur stdDeviation="6"/></filter>
<g clip-path="url(#c3all)">
<rect x="116" y="1220" width="460" height="446" fill="url(#g3b)"/>
<rect x="116" y="1540" width="260" height="120" fill="url(#g3d)"/>
<rect x="230" y="1500" width="120" height="140" fill="url(#g3e)"/>
<linearGradient id="g3f" gradientUnits="userSpaceOnUse" x1="121" y1="0" x2="305" y2="0"><stop offset="0" stop-color="#a3cbe8" stop-opacity="0.9"/><stop offset="0.21" stop-color="#8aadeb" stop-opacity="0.85"/><stop offset="0.46" stop-color="#6f8aef" stop-opacity="0.75"/><stop offset="0.65" stop-color="#566cf2" stop-opacity="0.6"/><stop offset="0.84" stop-color="#4556f5" stop-opacity="0.4"/><stop offset="1" stop-color="#3441f8" stop-opacity="0"/></linearGradient>
<g filter="url(#bl3)"><path d="M110 1670V1600L160 1606L205 1600L250 1594L300 1590L335 1588V1670Z" fill="#6882f0" opacity="0.22"/><path d="M110 1670V1630L150 1631L175 1627L205 1619L240 1613L275 1608L305 1603V1670Z" fill="url(#g3f)"/></g>
<clipPath id="c3up"><path d="M116.0 1200.0L580.0 1200.0L580.0 1380.0L517.0 1380.0L504.0 1375.6L510.0 1377.2L503.0 1373.2L487.2 1373.0L480.6 1367.7L471.5 1366.4L466.2 1359.8L446.5 1359.8L441.2 1354.6L433.4 1357.2L424.2 1352.0L408.4 1352.0L400.5 1348.0L388.7 1347.2L383.5 1343.5L380.9 1347.2L375.6 1343.2L365.1 1341.9L349.3 1340.6L340.5 1340.5L338.8 1335.2L333.8 1334.9L326.6 1334.9L324.6 1341.3L320.7 1347.9L320.0 1342.0L316.0 1341.0L315.5 1330.0L300.0 1330.0L296.0 1336.0L295.0 1348.0L295.0 1358.0L290.0 1366.0L283.0 1374.0L272.0 1390.0L262.0 1430.0L116.0 1430.0Z"/></clipPath>
<g clip-path="url(#c3up)"><g mask="url(#m3)"><rect x="116" y="1220" width="460" height="210" fill="url(#g3a)"/>
<linearGradient id="ls0" gradientUnits="userSpaceOnUse" x1="0" y1="1232" x2="0" y2="1378"><stop offset="0.0000" stop-color="#3b49f7"/><stop offset="0.1233" stop-color="#3b49f7"/><stop offset="0.2603" stop-color="#4556f5"/><stop offset="0.3973" stop-color="#637cf1"/><stop offset="0.5342" stop-color="#98bde9"/><stop offset="0.6370" stop-color="#a2cbe8"/><stop offset="0.7740" stop-color="#a6cfe7"/><stop offset="0.9110" stop-color="#add8e6"/><stop offset="1.0000" stop-color="#add8e6"/></linearGradient><linearGradient id="ls1" gradientUnits="userSpaceOnUse" x1="0" y1="1232" x2="0" y2="1378"><stop offset="0.0000" stop-color="#3a48f7"/><stop offset="0.1233" stop-color="#3a48f7"/><stop offset="0.2603" stop-color="#4455f5"/><stop offset="0.3973" stop-color="#627af1"/><stop offset="0.5342" stop-color="#97bce9"/><stop offset="0.6370" stop-color="#a2cae8"/><stop offset="0.7740" stop-color="#a6cfe7"/><stop offset="0.9110" stop-color="#add8e6"/><stop offset="1.0000" stop-color="#add8e6"/></linearGradient><linearGradient id="ls2" gradientUnits="userSpaceOnUse" x1="0" y1="1232" x2="0" y2="1378"><stop offset="0.0000" stop-color="#3948f7"/><stop offset="0.1233" stop-color="#3948f7"/><stop offset="0.2603" stop-color="#4455f5"/><stop offset="0.3973" stop-color="#6078f1"/><stop offset="0.5342" stop-color="#95bbe9"/><stop offset="0.6370" stop-color="#a1c9e8"/><stop offset="0.7740" stop-color="#a6cfe7"/><stop offset="0.9110" stop-color="#add8e6"/><stop offset="1.0000" stop-color="#add8e6"/></linearGradient><linearGradient id="ls3" gradientUnits="userSpaceOnUse" x1="0" y1="1232" x2="0" y2="1378"><stop offset="0.0000" stop-color="#3947f7"/><stop offset="0.1233" stop-color="#3947f7"/><stop offset="0.2603" stop-color="#4354f5"/><stop offset="0.3973" stop-color="#5e76f1"/><stop offset="0.5342" stop-color="#94b9ea"/><stop offset="0.6370" stop-color="#a1c9e8"/><stop offset="0.7740" stop-color="#a6cfe7"/><stop offset="0.9110" stop-color="#add8e6"/><stop offset="1.0000" stop-color="#add8e6"/></linearGradient><linearGradient id="ls4" gradientUnits="userSpaceOnUse" x1="0" y1="1232" x2="0" y2="1378"><stop offset="0.0000" stop-color="#3846f7"/><stop offset="0.1233" stop-color="#3846f7"/><stop offset="0.2603" stop-color="#4353f5"/><stop offset="0.3973" stop-color="#5d74f2"/><stop offset="0.5342" stop-color="#93b8ea"/><stop offset="0.6370" stop-color="#a0c8e8"/><stop offset="0.7740" stop-color="#a6cfe7"/><stop offset="0.9110" stop-color="#add8e6"/><stop offset="1.0000" stop-color="#add8e6"/></linearGradient><linearGradient id="ls5" gradientUnits="userSpaceOnUse" x1="0" y1="1232" x2="0" y2="1378"><stop offset="0.0000" stop-color="#3846f7"/><stop offset="0.1233" stop-color="#3846f7"/><stop offset="0.2603" stop-color="#4253f5"/><stop offset="0.3973" stop-color="#5b72f2"/><stop offset="0.5342" stop-color="#92b6ea"/><stop offset="0.6370" stop-color="#a0c7e8"/><stop offset="0.7740" stop-color="#a6cfe7"/><stop offset="0.9110" stop-color="#add8e6"/><stop offset="1.0000" stop-color="#add8e6"/></linearGradient><linearGradient id="ls6" gradientUnits="userSpaceOnUse" x1="0" y1="1232" x2="0" y2="1378"><stop offset="0.0000" stop-color="#3644f7"/><stop offset="0.1233" stop-color="#3644f7"/><stop offset="0.2603" stop-color="#4151f6"/><stop offset="0.3973" stop-color="#596ff2"/><stop offset="0.5342" stop-color="#90b4ea"/><stop offset="0.6370" stop-color="#9fc7e8"/><stop offset="0.7740" stop-color="#a6cfe7"/><stop offset="0.9110" stop-color="#add8e6"/><stop offset="1.0000" stop-color="#add8e6"/></linearGradient><linearGradient id="ls7" gradientUnits="userSpaceOnUse" x1="0" y1="1232" x2="0" y2="1378"><stop offset="0.0000" stop-color="#3441f8"/><stop offset="0.1233" stop-color="#3441f8"/><stop offset="0.2603" stop-color="#3f4ff6"/><stop offset="0.3973" stop-color="#576df2"/><stop offset="0.5342" stop-color="#8eb1eb"/><stop offset="0.6370" stop-color="#9fc7e8"/><stop offset="0.7740" stop-color="#a6cfe7"/><stop offset="0.9110" stop-color="#add8e6"/><stop offset="1.0000" stop-color="#add8e6"/></linearGradient><linearGradient id="ls8" gradientUnits="userSpaceOnUse" x1="0" y1="1232" x2="0" y2="1378"><stop offset="0.0000" stop-color="#313df8"/><stop offset="0.1233" stop-color="#313df8"/><stop offset="0.2603" stop-color="#3d4cf6"/><stop offset="0.3973" stop-color="#556af3"/><stop offset="0.5342" stop-color="#8badeb"/><stop offset="0.6370" stop-color="#9fc7e8"/><stop offset="0.7740" stop-color="#a6cfe7"/><stop offset="0.9110" stop-color="#add8e6"/><stop offset="1.0000" stop-color="#add8e6"/></linearGradient><linearGradient id="ls9" gradientUnits="userSpaceOnUse" x1="0" y1="1232" x2="0" y2="1378"><stop offset="0.0000" stop-color="#2e3af8"/><stop offset="0.1233" stop-color="#2e3af8"/><stop offset="0.2603" stop-color="#3b4af6"/><stop offset="0.3973" stop-color="#5368f3"/><stop offset="0.5342" stop-color="#88aaeb"/><stop offset="0.6370" stop-color="#9fc7e8"/><stop offset="0.7740" stop-color="#a6cfe7"/><stop offset="0.9110" stop-color="#add8e6"/><stop offset="1.0000" stop-color="#add8e6"/></linearGradient><linearGradient id="ls10" gradientUnits="userSpaceOnUse" x1="0" y1="1232" x2="0" y2="1378"><stop offset="0.0000" stop-color="#2c36f9"/><stop offset="0.1233" stop-color="#2c36f9"/><stop offset="0.2603" stop-color="#3947f7"/><stop offset="0.3973" stop-color="#5165f3"/><stop offset="0.5342" stop-color="#85a7ec"/><stop offset="0.6370" stop-color="#9fc7e8"/><stop offset="0.7740" stop-color="#a6cfe7"/><stop offset="0.9110" stop-color="#add8e6"/><stop offset="1.0000" stop-color="#add8e6"/></linearGradient><linearGradient id="ls11" gradientUnits="userSpaceOnUse" x1="0" y1="1232" x2="0" y2="1378"><stop offset="0.0000" stop-color="#2731f9"/><stop offset="0.1233" stop-color="#2731f9"/><stop offset="0.2603" stop-color="#3644f7"/><stop offset="0.3973" stop-color="#4f62f4"/><stop offset="0.5342" stop-color="#82a3ec"/><stop offset="0.6370" stop-color="#9fc6e8"/><stop offset="0.7740" stop-color="#a6cfe7"/><stop offset="0.9110" stop-color="#add8e6"/><stop offset="1.0000" stop-color="#add8e6"/></linearGradient><linearGradient id="ls12" gradientUnits="userSpaceOnUse" x1="0" y1="1232" x2="0" y2="1378"><stop offset="0.0000" stop-color="#1d25fb"/><stop offset="0.1233" stop-color="#1f27fa"/><stop offset="0.2603" stop-color="#313ef8"/><stop offset="0.3973" stop-color="#4b5ef4"/><stop offset="0.5342" stop-color="#7e9eed"/><stop offset="0.6370" stop-color="#9ec6e8"/><stop offset="0.7740" stop-color="#a5cee7"/><stop offset="0.9110" stop-color="#add8e6"/><stop offset="1.0000" stop-color="#add8e6"/></linearGradient><linearGradient id="ls13" gradientUnits="userSpaceOnUse" x1="0" y1="1232" x2="0" y2="1378"><stop offset="0.0000" stop-color="#1419fc"/><stop offset="0.1233" stop-color="#171dfc"/><stop offset="0.2603" stop-color="#2d38f9"/><stop offset="0.3973" stop-color="#485af5"/><stop offset="0.5342" stop-color="#7a99ed"/><stop offset="0.6370" stop-color="#9ec5e8"/><stop offset="0.7740" stop-color="#a5cde7"/><stop offset="0.9110" stop-color="#add8e6"/><stop offset="1.0000" stop-color="#add8e6"/></linearGradient><linearGradient id="ls14" gradientUnits="userSpaceOnUse" x1="0" y1="1232" x2="0" y2="1378"><stop offset="0.0000" stop-color="#0a0dfe"/><stop offset="0.1233" stop-color="#0f12fd"/><stop offset="0.2603" stop-color="#2832f9"/><stop offset="0.3973" stop-color="#4455f5"/><stop offset="0.5342" stop-color="#7693ee"/><stop offset="0.6370" stop-color="#9dc4e8"/><stop offset="0.7740" stop-color="#a4cde7"/><stop offset="0.9110" stop-color="#add8e6"/><stop offset="1.0000" stop-color="#add8e6"/></linearGradient><linearGradient id="ls15" gradientUnits="userSpaceOnUse" x1="0" y1="1232" x2="0" y2="1378"><stop offset="0.0000" stop-color="#0101ff"/><stop offset="0.1233" stop-color="#0708fe"/><stop offset="0.2603" stop-color="#232cfa"/><stop offset="0.3973" stop-color="#4151f6"/><stop offset="0.5342" stop-color="#728eef"/><stop offset="0.6370" stop-color="#9cc3e8"/><stop offset="0.7740" stop-color="#a3cce7"/><stop offset="0.9110" stop-color="#add8e6"/><stop offset="1.0000" stop-color="#add8e6"/></linearGradient><linearGradient id="ls16" gradientUnits="userSpaceOnUse" x1="0" y1="1232" x2="0" y2="1378"><stop offset="0.0000" stop-color="#0000f9"/><stop offset="0.1233" stop-color="#0000fe"/><stop offset="0.2603" stop-color="#1e25fb"/><stop offset="0.3973" stop-color="#3d4df6"/><stop offset="0.5342" stop-color="#6e89ef"/><stop offset="0.6370" stop-color="#9bc1e9"/><stop offset="0.7740" stop-color="#a2cbe8"/><stop offset="0.9110" stop-color="#add8e6"/><stop offset="1.0000" stop-color="#add8e6"/></linearGradient><linearGradient id="ls17" gradientUnits="userSpaceOnUse" x1="0" y1="1232" x2="0" y2="1378"><stop offset="0.0000" stop-color="#0000f4"/><stop offset="0.1233" stop-color="#0000f8"/><stop offset="0.2603" stop-color="#181efc"/><stop offset="0.3973" stop-color="#3948f7"/><stop offset="0.5342" stop-color="#6a84f0"/><stop offset="0.6370" stop-color="#97bce9"/><stop offset="0.7740" stop-color="#a1c9e8"/><stop offset="0.9110" stop-color="#acd7e6"/><stop offset="1.0000" stop-color="#add8e6"/></linearGradient><linearGradient id="ls18" gradientUnits="userSpaceOnUse" x1="0" y1="1232" x2="0" y2="1378"><stop offset="0.0000" stop-color="#0000ee"/><stop offset="0.1233" stop-color="#0000f3"/><stop offset="0.2603" stop-color="#1216fc"/><stop offset="0.3973" stop-color="#3543f7"/><stop offset="0.5342" stop-color="#667ff0"/><stop offset="0.6370" stop-color="#93b7ea"/><stop offset="0.7740" stop-color="#a0c7e8"/><stop offset="0.9110" stop-color="#acd6e6"/><stop offset="1.0000" stop-color="#add8e6"/></linearGradient><linearGradient id="ls19" gradientUnits="userSpaceOnUse" x1="0" y1="1232" x2="0" y2="1378"><stop offset="0.0000" stop-color="#0000e9"/><stop offset="0.1233" stop-color="#0000ed"/><stop offset="0.2603" stop-color="#0c0efd"/><stop offset="0.3973" stop-color="#313df8"/><stop offset="0.5342" stop-color="#627af1"/><stop offset="0.6370" stop-color="#8fb2ea"/><stop offset="0.7740" stop-color="#9ec6e8"/><stop offset="0.9110" stop-color="#abd5e6"/><stop offset="1.0000" stop-color="#add8e6"/></linearGradient><linearGradient id="ls20" gradientUnits="userSpaceOnUse" x1="0" y1="1232" x2="0" y2="1378"><stop offset="0.0000" stop-color="#0000e3"/><stop offset="0.1233" stop-color="#0000e8"/><stop offset="0.2603" stop-color="#0507fe"/><stop offset="0.3973" stop-color="#2d38f8"/><stop offset="0.5342" stop-color="#5e75f1"/><stop offset="0.6370" stop-color="#8badeb"/><stop offset="0.7740" stop-color="#9dc4e8"/><stop offset="0.9110" stop-color="#aad4e6"/><stop offset="1.0000" stop-color="#add8e6"/></linearGradient><linearGradient id="ls21" gradientUnits="userSpaceOnUse" x1="0" y1="1232" x2="0" y2="1378"><stop offset="0.0000" stop-color="#0000de"/><stop offset="0.1233" stop-color="#0000e3"/><stop offset="0.2603" stop-color="#0000ff"/><stop offset="0.3973" stop-color="#2933f9"/><stop offset="0.5342" stop-color="#5970f2"/><stop offset="0.6370" stop-color="#86a8ec"/><stop offset="0.7740" stop-color="#9bc2e9"/><stop offset="0.9110" stop-color="#a9d4e7"/><stop offset="1.0000" stop-color="#add8e6"/></linearGradient><linearGradient id="ls22" gradientUnits="userSpaceOnUse" x1="0" y1="1232" x2="0" y2="1378"><stop offset="0.0000" stop-color="#0000dc"/><stop offset="0.1233" stop-color="#0000e1"/><stop offset="0.2603" stop-color="#0000fb"/><stop offset="0.3973" stop-color="#2630f9"/><stop offset="0.5342" stop-color="#556af3"/><stop offset="0.6370" stop-color="#81a1ec"/><stop offset="0.7740" stop-color="#99bee9"/><stop offset="0.9110" stop-color="#a9d3e7"/><stop offset="1.0000" stop-color="#add8e6"/></linearGradient><linearGradient id="ls23" gradientUnits="userSpaceOnUse" x1="0" y1="1232" x2="0" y2="1378"><stop offset="0.0000" stop-color="#0000da"/><stop offset="0.1233" stop-color="#0000de"/><stop offset="0.2603" stop-color="#0000f8"/><stop offset="0.3973" stop-color="#242cfa"/><stop offset="0.5342" stop-color="#5165f3"/><stop offset="0.6370" stop-color="#7b9aed"/><stop offset="0.7740" stop-color="#96bbe9"/><stop offset="0.9110" stop-color="#a8d2e7"/><stop offset="1.0000" stop-color="#add8e6"/></linearGradient><linearGradient id="ls24" gradientUnits="userSpaceOnUse" x1="0" y1="1232" x2="0" y2="1378"><stop offset="0.0000" stop-color="#0000d7"/><stop offset="0.1233" stop-color="#0000dc"/><stop offset="0.2603" stop-color="#0000f5"/><stop offset="0.3973" stop-color="#2129fa"/><stop offset="0.5342" stop-color="#4d60f4"/><stop offset="0.6370" stop-color="#7593ee"/><stop offset="0.7740" stop-color="#93b7ea"/><stop offset="0.9110" stop-color="#a7d1e7"/><stop offset="1.0000" stop-color="#add8e6"/></linearGradient><linearGradient id="ls25" gradientUnits="userSpaceOnUse" x1="0" y1="1232" x2="0" y2="1378"><stop offset="0.0000" stop-color="#0000d5"/><stop offset="0.1233" stop-color="#0000d9"/><stop offset="0.2603" stop-color="#0000f1"/><stop offset="0.3973" stop-color="#1e25fb"/><stop offset="0.5342" stop-color="#495bf5"/><stop offset="0.6370" stop-color="#708cef"/><stop offset="0.7740" stop-color="#90b4ea"/><stop offset="0.9110" stop-color="#a7d0e7"/><stop offset="1.0000" stop-color="#add8e6"/></linearGradient><linearGradient id="ls26" gradientUnits="userSpaceOnUse" x1="0" y1="1232" x2="0" y2="1378"><stop offset="0.0000" stop-color="#0000d3"/><stop offset="0.1233" stop-color="#0000d7"/><stop offset="0.2603" stop-color="#0000ee"/><stop offset="0.3973" stop-color="#1b22fb"/><stop offset="0.5342" stop-color="#4455f5"/><stop offset="0.6370" stop-color="#6a84f0"/><stop offset="0.7740" stop-color="#8db0eb"/><stop offset="0.9110" stop-color="#a6cfe7"/><stop offset="1.0000" stop-color="#add8e6"/></linearGradient><linearGradient id="ls27" gradientUnits="userSpaceOnUse" x1="0" y1="1232" x2="0" y2="1378"><stop offset="0.0000" stop-color="#0000d1"/><stop offset="0.1233" stop-color="#0000d5"/><stop offset="0.2603" stop-color="#0000ec"/><stop offset="0.3973" stop-color="#181ffb"/><stop offset="0.5342" stop-color="#404ff6"/><stop offset="0.6370" stop-color="#647cf1"/><stop offset="0.7740" stop-color="#89abeb"/><stop offset="0.9110" stop-color="#a4cde7"/><stop offset="1.0000" stop-color="#acd7e6"/></linearGradient><linearGradient id="ls28" gradientUnits="userSpaceOnUse" x1="0" y1="1232" x2="0" y2="1378"><stop offset="0.0000" stop-color="#0000d0"/><stop offset="0.1233" stop-color="#0000d4"/><stop offset="0.2603" stop-color="#0000ea"/><stop offset="0.3973" stop-color="#161bfc"/><stop offset="0.5342" stop-color="#3b49f7"/><stop offset="0.6370" stop-color="#5d74f2"/><stop offset="0.7740" stop-color="#85a6ec"/><stop offset="0.9110" stop-color="#a3cce7"/><stop offset="1.0000" stop-color="#acd6e6"/></linearGradient><linearGradient id="ls29" gradientUnits="userSpaceOnUse" x1="0" y1="1232" x2="0" y2="1378"><stop offset="0.0000" stop-color="#0000cf"/><stop offset="0.1233" stop-color="#0000d2"/><stop offset="0.2603" stop-color="#0000e7"/><stop offset="0.3973" stop-color="#1318fc"/><stop offset="0.5342" stop-color="#3643f7"/><stop offset="0.6370" stop-color="#576cf2"/><stop offset="0.7740" stop-color="#81a1ec"/><stop offset="0.9110" stop-color="#a2cae8"/><stop offset="1.0000" stop-color="#abd5e6"/></linearGradient><linearGradient id="ls30" gradientUnits="userSpaceOnUse" x1="0" y1="1232" x2="0" y2="1378"><stop offset="0.0000" stop-color="#0000cd"/><stop offset="0.1233" stop-color="#0000d0"/><stop offset="0.2603" stop-color="#0000e5"/><stop offset="0.3973" stop-color="#1014fd"/><stop offset="0.5342" stop-color="#313df8"/><stop offset="0.6370" stop-color="#5064f3"/><stop offset="0.7740" stop-color="#7d9ced"/><stop offset="0.9110" stop-color="#a0c8e8"/><stop offset="1.0000" stop-color="#aad4e6"/></linearGradient><linearGradient id="ls31" gradientUnits="userSpaceOnUse" x1="0" y1="1232" x2="0" y2="1378"><stop offset="0.0000" stop-color="#0000cc"/><stop offset="0.1233" stop-color="#0000ce"/><stop offset="0.2603" stop-color="#0000e3"/><stop offset="0.3973" stop-color="#0d11fd"/><stop offset="0.5342" stop-color="#2d38f9"/><stop offset="0.6370" stop-color="#4a5cf4"/><stop offset="0.7740" stop-color="#7997ee"/><stop offset="0.9110" stop-color="#9fc7e8"/><stop offset="1.0000" stop-color="#a9d4e7"/></linearGradient><linearGradient id="ls32" gradientUnits="userSpaceOnUse" x1="0" y1="1232" x2="0" y2="1378"><stop offset="0.0000" stop-color="#0000cb"/><stop offset="0.1233" stop-color="#0000cd"/><stop offset="0.2603" stop-color="#0000e1"/><stop offset="0.3973" stop-color="#0a0dfd"/><stop offset="0.5342" stop-color="#2933f9"/><stop offset="0.6370" stop-color="#4657f5"/><stop offset="0.7740" stop-color="#7592ee"/><stop offset="0.9110" stop-color="#9dc5e8"/><stop offset="1.0000" stop-color="#a9d3e7"/></linearGradient><linearGradient id="ls33" gradientUnits="userSpaceOnUse" x1="0" y1="1232" x2="0" y2="1378"><stop offset="0.0000" stop-color="#0000ca"/><stop offset="0.1233" stop-color="#0000cc"/><stop offset="0.2603" stop-color="#0000df"/><stop offset="0.3973" stop-color="#0709fe"/><stop offset="0.5342" stop-color="#252efa"/><stop offset="0.6370" stop-color="#4252f6"/><stop offset="0.7740" stop-color="#718def"/><stop offset="0.9110" stop-color="#9cc3e8"/><stop offset="1.0000" stop-color="#a8d2e7"/></linearGradient><linearGradient id="ls34" gradientUnits="userSpaceOnUse" x1="0" y1="1232" x2="0" y2="1378"><stop offset="0.0000" stop-color="#0000c9"/><stop offset="0.1233" stop-color="#0000cb"/><stop offset="0.2603" stop-color="#0000dd"/><stop offset="0.3973" stop-color="#0406fe"/><stop offset="0.5342" stop-color="#212afa"/><stop offset="0.6370" stop-color="#3e4df6"/><stop offset="0.7740" stop-color="#6d89ef"/><stop offset="0.9110" stop-color="#9ac1e9"/><stop offset="1.0000" stop-color="#a7d1e7"/></linearGradient><linearGradient id="ls35" gradientUnits="userSpaceOnUse" x1="0" y1="1232" x2="0" y2="1378"><stop offset="0.0000" stop-color="#0000c8"/><stop offset="0.1233" stop-color="#0000ca"/><stop offset="0.2603" stop-color="#0000db"/><stop offset="0.3973" stop-color="#0102ff"/><stop offset="0.5342" stop-color="#1e25fb"/><stop offset="0.6370" stop-color="#3948f7"/><stop offset="0.7740" stop-color="#6a84f0"/><stop offset="0.9110" stop-color="#99bfe9"/><stop offset="1.0000" stop-color="#a6d0e7"/></linearGradient><linearGradient id="ls36" gradientUnits="userSpaceOnUse" x1="0" y1="1232" x2="0" y2="1378"><stop offset="0.0000" stop-color="#0000c7"/><stop offset="0.1233" stop-color="#0000ca"/><stop offset="0.2603" stop-color="#0000da"/><stop offset="0.3973" stop-color="#0000ff"/><stop offset="0.5342" stop-color="#1c23fb"/><stop offset="0.6370" stop-color="#3745f7"/><stop offset="0.7740" stop-color="#6882f0"/><stop offset="0.9110" stop-color="#98bee9"/><stop offset="1.0000" stop-color="#a6cfe7"/></linearGradient><linearGradient id="ls37" gradientUnits="userSpaceOnUse" x1="0" y1="1232" x2="0" y2="1378"><stop offset="0.0000" stop-color="#0000c7"/><stop offset="0.1233" stop-color="#0000ca"/><stop offset="0.2603" stop-color="#0000da"/><stop offset="0.3973" stop-color="#0000ff"/><stop offset="0.5342" stop-color="#1c23fb"/><stop offset="0.6370" stop-color="#3745f7"/><stop offset="0.7740" stop-color="#6882f0"/><stop offset="0.9110" stop-color="#98bee9"/><stop offset="1.0000" stop-color="#a6cfe7"/></linearGradient><linearGradient id="ls38" gradientUnits="userSpaceOnUse" x1="0" y1="1232" x2="0" y2="1378"><stop offset="0.0000" stop-color="#0000c7"/><stop offset="0.1233" stop-color="#0000ca"/><stop offset="0.2603" stop-color="#0000da"/><stop offset="0.3973" stop-color="#0000ff"/><stop offset="0.5342" stop-color="#1c23fb"/><stop offset="0.6370" stop-color="#3745f7"/><stop offset="0.7740" stop-color="#6882f0"/><stop offset="0.9110" stop-color="#98bee9"/><stop offset="1.0000" stop-color="#a6cfe7"/></linearGradient><rect x="311.0" y="1226" width="7.1" height="156" fill="url(#ls0)"/><rect x="317.5" y="1226" width="7.1" height="156" fill="url(#ls1)"/><rect x="324.0" y="1226" width="7.1" height="156" fill="url(#ls2)"/><rect x="330.5" y="1226" width="7.1" height="156" fill="url(#ls3)"/><rect x="337.0" y="1226" width="7.1" height="156" fill="url(#ls4)"/><rect x="343.5" y="1226" width="7.1" height="156" fill="url(#ls5)"/><rect x="350.0" y="1226" width="7.1" height="156" fill="url(#ls6)"/><rect x="356.5" y="1226" width="7.1" height="156" fill="url(#ls7)"/><rect x="363.0" y="1226" width="7.1" height="156" fill="url(#ls8)"/><rect x="369.5" y="1226" width="7.1" height="156" fill="url(#ls9)"/><rect x="376.0" y="1226" width="7.1" height="156" fill="url(#ls10)"/><rect x="382.5" y="1226" width="7.1" height="156" fill="url(#ls11)"/><rect x="389.0" y="1226" width="7.1" height="156" fill="url(#ls12)"/><rect x="395.5" y="1226" width="7.1" height="156" fill="url(#ls13)"/><rect x="402.0" y="1226" width="7.1" height="156" fill="url(#ls14)"/><rect x="408.5" y="1226" width="7.1" height="156" fill="url(#ls15)"/><rect x="415.0" y="1226" width="7.1" height="156" fill="url(#ls16)"/><rect x="421.5" y="1226" width="7.1" height="156" fill="url(#ls17)"/><rect x="428.0" y="1226" width="7.1" height="156" fill="url(#ls18)"/><rect x="434.5" y="1226" width="7.1" height="156" fill="url(#ls19)"/><rect x="441.0" y="1226" width="7.1" height="156" fill="url(#ls20)"/><rect x="447.5" y="1226" width="7.1" height="156" fill="url(#ls21)"/><rect x="454.0" y="1226" width="7.1" height="156" fill="url(#ls22)"/><rect x="460.5" y="1226" width="7.1" height="156" fill="url(#ls23)"/><rect x="467.0" y="1226" width="7.1" height="156" fill="url(#ls24)"/><rect x="473.5" y="1226" width="7.1" height="156" fill="url(#ls25)"/><rect x="480.0" y="1226" width="7.1" height="156" fill="url(#ls26)"/><rect x="486.5" y="1226" width="7.1" height="156" fill="url(#ls27)"/><rect x="493.0" y="1226" width="7.1" height="156" fill="url(#ls28)"/><rect x="499.5" y="1226" width="7.1" height="156" fill="url(#ls29)"/><rect x="506.0" y="1226" width="7.1" height="156" fill="url(#ls30)"/><rect x="512.5" y="1226" width="7.1" height="156" fill="url(#ls31)"/><rect x="519.0" y="1226" width="7.1" height="156" fill="url(#ls32)"/><rect x="525.5" y="1226" width="7.1" height="156" fill="url(#ls33)"/><rect x="532.0" y="1226" width="7.1" height="156" fill="url(#ls34)"/><rect x="538.5" y="1226" width="7.1" height="156" fill="url(#ls35)"/><rect x="545.0" y="1226" width="7.1" height="156" fill="url(#ls36)"/><rect x="551.5" y="1226" width="7.1" height="156" fill="url(#ls37)"/><rect x="558.0" y="1226" width="7.1" height="156" fill="url(#ls38)"/>
<rect x="272" y="1300" width="39" height="50" fill="#0a0dfe" opacity="0.3" filter="url(#bl3b)"/>
<circle cx="325.7" cy="1310.5" r="2.8" fill="#1c23fb" opacity="0.85"/>
<circle cx="343.3" cy="1310.5" r="2.8" fill="#1c23fb" opacity="0.85"/>
<circle cx="378.2" cy="1333.6" r="2.8" fill="#1c23fb" opacity="0.85"/>
<circle cx="302.0" cy="1317.0" r="2.8" fill="#7d9ced" opacity="0.85"/>
<circle cx="297.0" cy="1274.0" r="2.8" fill="#6882f0" opacity="0.85"/>
</g></g>
</g>
<path d="M116.0 1256.0C116.9 1188.0 119.8 1255.7 121.3 1254.1C122.8 1252.5 123.5 1248.8 125.3 1246.2C127.0 1243.6 129.2 1240.6 131.8 1238.4C134.4 1236.2 137.7 1234.4 141.0 1233.1C144.3 1231.8 146.2 1231.2 151.5 1230.5C156.8 1229.8 147.8 1229.5 172.5 1229.2C197.2 1228.9 232.4 1228.8 300.0 1228.6C367.6 1228.4 531.7 1228.3 578.0 1228.3C578.0 1230.8 578.0 1241.0 578.0 1243.5C576.8 1243.7 572.8 1243.8 570.8 1244.5C568.8 1245.2 567.8 1246.1 566.0 1248.0C564.2 1249.9 561.3 1253.2 560.0 1256.0C558.7 1258.8 558.4 1257.7 558.0 1265.0C557.6 1272.3 557.7 1294.2 557.6 1300.0C557.6 1305.2 557.4 1324.8 557.6 1331.0C557.8 1337.2 559.1 1335.2 559.0 1337.0C558.9 1338.8 557.4 1337.6 557.2 1342.0C557.0 1346.4 558.0 1358.4 557.6 1363.5C557.2 1368.6 556.4 1370.3 555.0 1372.5C553.6 1374.7 555.1 1375.6 549.0 1376.5C542.9 1377.4 523.5 1377.6 518.4 1377.8C518.4 1384.9 518.4 1413.7 518.4 1420.5C518.4 1427.3 517.4 1417.8 518.2 1418.8C519.1 1419.8 521.5 1424.8 523.5 1426.5C525.5 1428.2 527.1 1428.6 530.3 1429.0C533.6 1429.5 540.0 1428.1 543.0 1429.1C546.0 1430.2 547.1 1433.0 548.6 1435.4C550.1 1437.7 552.1 1440.8 552.0 1443.1C551.9 1445.4 548.2 1447.6 548.0 1449.2C547.8 1450.9 550.6 1451.1 550.6 1452.9C550.7 1454.6 549.5 1458.0 548.3 1459.6C547.1 1461.2 544.6 1461.0 543.4 1462.3C542.2 1463.6 541.4 1464.8 541.2 1467.4C541.0 1470.0 541.4 1475.3 542.2 1477.7C543.1 1480.1 545.5 1479.7 546.3 1481.7C547.1 1483.7 547.2 1487.5 546.9 1489.9C546.6 1492.3 544.4 1494.3 544.4 1496.0C544.4 1497.7 546.4 1498.4 547.0 1500.1C547.6 1501.8 548.5 1504.2 548.2 1506.3C547.9 1508.3 545.9 1511.1 545.0 1512.4C544.1 1513.8 543.2 1511.9 542.8 1514.4C542.4 1516.9 543.5 1523.7 542.8 1527.1C542.0 1530.6 540.4 1534.3 538.3 1535.2C536.2 1536.1 531.8 1534.0 530.1 1532.7C528.4 1531.4 529.4 1527.7 528.4 1527.3C527.3 1527.0 524.6 1530.1 523.7 1530.7C522.8 1531.4 522.2 1530.7 523.0 1531.3C523.7 1531.9 528.0 1532.6 528.4 1534.2C528.8 1535.8 525.7 1539.5 525.5 1541.0C525.3 1542.5 525.6 1541.8 527.4 1542.9C529.3 1544.1 534.3 1546.2 536.6 1548.1C539.0 1550.0 540.6 1551.7 541.6 1554.3C542.6 1556.9 543.0 1560.9 542.8 1563.7C542.6 1566.4 541.5 1568.7 540.5 1570.8C539.5 1572.9 536.8 1574.9 536.7 1576.1C536.5 1577.2 538.9 1576.0 539.6 1577.7C540.2 1579.4 541.7 1584.4 540.4 1586.4C539.1 1588.4 535.0 1589.9 531.7 1589.7C528.3 1589.4 522.3 1586.8 520.1 1585.0C517.8 1583.1 519.5 1578.7 518.2 1578.5C516.9 1578.2 514.5 1582.8 512.3 1583.5C510.0 1584.2 506.4 1583.1 504.7 1582.5C502.9 1581.9 503.0 1579.2 501.7 1580.1C500.4 1581.1 499.1 1586.8 496.8 1588.2C494.5 1589.6 490.4 1589.2 488.1 1588.5C485.8 1587.9 484.6 1585.3 483.0 1584.5C481.5 1583.6 479.1 1582.9 478.9 1583.6C478.6 1584.3 482.1 1586.5 481.4 1588.7C480.7 1590.8 476.4 1595.9 474.6 1596.8C472.7 1597.6 471.7 1593.3 470.3 1593.7C469.0 1594.1 468.0 1599.0 466.3 1598.9C464.7 1598.7 461.7 1592.8 460.4 1592.8C459.1 1592.8 460.2 1597.8 458.6 1598.6C457.0 1599.5 452.9 1597.4 450.8 1597.8C448.7 1598.3 447.9 1599.4 446.0 1601.3C444.1 1603.1 443.0 1607.1 439.4 1609.1C435.8 1611.0 428.3 1612.5 424.3 1612.9C420.4 1613.2 419.7 1610.6 415.7 1611.2C411.7 1611.7 405.8 1615.2 400.2 1616.3C394.5 1617.5 386.6 1618.8 381.7 1618.2C376.7 1617.6 374.1 1614.2 370.5 1612.7C366.8 1611.2 363.4 1610.6 360.0 1609.2C356.5 1607.8 352.0 1604.9 349.7 1604.1C347.3 1603.2 347.6 1603.3 346.0 1604.0C344.5 1604.7 342.3 1606.0 340.3 1608.3C338.3 1610.5 336.8 1616.4 334.2 1617.4C331.5 1618.4 327.5 1614.9 324.3 1614.2C321.1 1613.6 317.6 1612.9 315.0 1613.7C312.3 1614.5 310.8 1617.8 308.2 1619.3C305.6 1620.7 302.0 1620.9 299.4 1622.2C296.9 1623.6 294.3 1627.5 292.8 1627.1C291.3 1626.8 290.8 1621.3 290.3 1620.2C289.8 1619.1 290.4 1619.3 289.6 1620.5C288.8 1621.7 287.2 1625.7 285.5 1627.5C283.9 1629.3 283.5 1630.4 279.6 1631.2C275.7 1632.1 266.2 1631.8 262.2 1632.7C258.3 1633.6 258.0 1635.0 256.0 1636.6C253.9 1638.3 252.1 1641.4 250.0 1642.6C247.9 1643.7 245.6 1644.4 243.3 1643.8C240.9 1643.2 237.4 1639.8 235.7 1639.0C234.0 1638.1 235.0 1637.8 233.2 1638.5C231.4 1639.1 227.1 1643.1 225.0 1643.0C222.8 1642.9 221.5 1638.2 220.2 1638.0C219.0 1637.7 219.9 1640.3 217.3 1641.3C214.7 1642.3 207.9 1642.0 204.7 1644.1C201.4 1646.2 200.3 1651.9 197.7 1654.0C195.1 1656.0 191.0 1657.1 189.0 1656.5C187.0 1655.9 187.7 1650.3 185.7 1650.3C183.7 1650.3 178.9 1656.7 176.9 1656.7C174.9 1656.7 174.8 1650.4 173.8 1650.3C172.7 1650.2 173.1 1655.2 170.6 1655.9C168.1 1656.7 161.5 1656.7 159.0 1654.8C156.6 1652.8 156.9 1644.9 155.9 1644.1C154.9 1643.2 155.8 1648.6 152.9 1649.6C149.9 1650.6 142.4 1649.1 138.2 1650.2C134.0 1651.3 129.8 1654.2 127.5 1656.1C125.2 1658.0 126.2 1660.5 124.3 1661.4C122.4 1662.4 117.4 1661.9 116.0 1662.0C116.0 1594.3 115.1 1324.0 116.0 1256.0Z" fill="none" stroke="#808080" stroke-width="2.2" stroke-linejoin="round"/>
<path d="M320.7 1347.9C321.6 1345.3 323.6 1343.5 324.6 1341.3C325.6 1339.1 325.1 1336.0 326.6 1334.9C328.1 1333.8 331.8 1334.9 333.8 1334.9C335.8 1335.0 337.7 1334.3 338.8 1335.2C339.9 1336.1 338.8 1339.6 340.5 1340.5C342.2 1341.4 345.2 1340.4 349.3 1340.6C353.4 1340.8 360.7 1341.5 365.1 1341.9C369.5 1342.3 373.0 1342.3 375.6 1343.2C378.2 1344.1 379.6 1347.2 380.9 1347.2C382.2 1347.2 382.2 1343.5 383.5 1343.5C384.8 1343.5 385.9 1346.5 388.7 1347.2C391.5 1348.0 397.2 1347.2 400.5 1348.0C403.8 1348.8 404.4 1351.3 408.4 1352.0C412.3 1352.7 420.0 1351.1 424.2 1352.0C428.4 1352.9 430.6 1356.8 433.4 1357.2C436.2 1357.6 439.0 1354.2 441.2 1354.6C443.4 1355.0 442.3 1358.9 446.5 1359.8C450.7 1360.7 462.0 1358.7 466.2 1359.8C470.4 1360.9 469.1 1365.1 471.5 1366.4C473.9 1367.7 478.0 1366.6 480.6 1367.7C483.2 1368.8 483.5 1372.1 487.2 1373.0C490.9 1373.9 499.2 1372.5 503.0 1373.2C506.8 1373.9 509.8 1376.8 510.0 1377.2C510.2 1377.6 506.7 1375.8 504.0 1375.6C501.3 1375.4 496.6 1376.2 493.8 1376.0C491.0 1375.8 489.0 1374.6 487.0 1374.5C485.0 1374.4 483.5 1376.0 482.0 1375.6C480.5 1375.2 479.5 1371.6 478.0 1371.9C476.5 1372.2 474.3 1377.2 472.8 1377.2C471.3 1377.2 470.3 1372.6 468.8 1371.9C467.3 1371.2 464.0 1371.7 463.6 1373.2C463.2 1374.7 466.6 1378.4 466.2 1381.0C465.8 1383.6 462.2 1385.9 460.9 1389.0C459.6 1392.1 460.3 1397.8 458.3 1399.5C456.3 1401.2 451.5 1400.0 449.1 1399.5C446.7 1399.0 444.6 1398.0 443.7 1396.5C442.8 1395.0 444.6 1392.5 443.7 1390.2C442.8 1388.0 440.9 1385.4 438.5 1383.0C436.1 1380.6 432.7 1376.9 429.4 1375.9C426.1 1374.9 421.8 1376.3 418.9 1377.2C416.0 1378.1 414.1 1381.3 412.3 1381.1C410.6 1380.9 410.4 1377.0 408.4 1375.9C406.4 1374.8 400.9 1375.6 400.5 1374.5C400.1 1373.4 404.3 1370.9 405.8 1369.3C407.3 1367.7 409.8 1365.9 409.7 1364.7C409.6 1363.5 406.7 1361.6 405.0 1362.1C403.3 1362.6 401.6 1367.5 399.3 1367.5C397.0 1367.5 393.6 1363.2 391.4 1362.0C389.2 1360.8 387.4 1359.4 386.1 1360.5C384.8 1361.6 384.6 1368.3 383.5 1368.5C382.4 1368.7 380.9 1363.3 379.6 1361.5C378.3 1359.7 376.9 1356.6 375.6 1357.5C374.3 1358.4 373.0 1366.3 371.7 1367.0C370.4 1367.7 369.0 1363.8 367.7 1361.5C366.4 1359.2 366.0 1354.8 363.8 1353.5C361.6 1352.2 357.5 1352.8 354.6 1353.5C351.8 1354.2 349.3 1357.2 346.7 1357.5C344.1 1357.8 340.8 1354.4 338.8 1355.0C336.8 1355.6 336.4 1359.6 334.9 1361.0C333.4 1362.4 332.0 1363.2 329.6 1363.6C327.2 1364.0 322.4 1364.7 320.7 1363.6C319.0 1362.5 319.4 1359.6 319.4 1357.0C319.4 1354.4 319.8 1350.5 320.7 1347.9Z" fill="none" stroke="#fff" stroke-width="6.4" stroke-linejoin="round"/>
<path d="M320.7 1347.9C321.6 1345.3 323.6 1343.5 324.6 1341.3C325.6 1339.1 325.1 1336.0 326.6 1334.9C328.1 1333.8 331.8 1334.9 333.8 1334.9C335.8 1335.0 337.7 1334.3 338.8 1335.2C339.9 1336.1 338.8 1339.6 340.5 1340.5C342.2 1341.4 345.2 1340.4 349.3 1340.6C353.4 1340.8 360.7 1341.5 365.1 1341.9C369.5 1342.3 373.0 1342.3 375.6 1343.2C378.2 1344.1 379.6 1347.2 380.9 1347.2C382.2 1347.2 382.2 1343.5 383.5 1343.5C384.8 1343.5 385.9 1346.5 388.7 1347.2C391.5 1348.0 397.2 1347.2 400.5 1348.0C403.8 1348.8 404.4 1351.3 408.4 1352.0C412.3 1352.7 420.0 1351.1 424.2 1352.0C428.4 1352.9 430.6 1356.8 433.4 1357.2C436.2 1357.6 439.0 1354.2 441.2 1354.6C443.4 1355.0 442.3 1358.9 446.5 1359.8C450.7 1360.7 462.0 1358.7 466.2 1359.8C470.4 1360.9 469.1 1365.1 471.5 1366.4C473.9 1367.7 478.0 1366.6 480.6 1367.7C483.2 1368.8 483.5 1372.1 487.2 1373.0C490.9 1373.9 499.2 1372.5 503.0 1373.2C506.8 1373.9 509.8 1376.8 510.0 1377.2C510.2 1377.6 506.7 1375.8 504.0 1375.6C501.3 1375.4 496.6 1376.2 493.8 1376.0C491.0 1375.8 489.0 1374.6 487.0 1374.5C485.0 1374.4 483.5 1376.0 482.0 1375.6C480.5 1375.2 479.5 1371.6 478.0 1371.9C476.5 1372.2 474.3 1377.2 472.8 1377.2C471.3 1377.2 470.3 1372.6 468.8 1371.9C467.3 1371.2 464.0 1371.7 463.6 1373.2C463.2 1374.7 466.6 1378.4 466.2 1381.0C465.8 1383.6 462.2 1385.9 460.9 1389.0C459.6 1392.1 460.3 1397.8 458.3 1399.5C456.3 1401.2 451.5 1400.0 449.1 1399.5C446.7 1399.0 444.6 1398.0 443.7 1396.5C442.8 1395.0 444.6 1392.5 443.7 1390.2C442.8 1388.0 440.9 1385.4 438.5 1383.0C436.1 1380.6 432.7 1376.9 429.4 1375.9C426.1 1374.9 421.8 1376.3 418.9 1377.2C416.0 1378.1 414.1 1381.3 412.3 1381.1C410.6 1380.9 410.4 1377.0 408.4 1375.9C406.4 1374.8 400.9 1375.6 400.5 1374.5C400.1 1373.4 404.3 1370.9 405.8 1369.3C407.3 1367.7 409.8 1365.9 409.7 1364.7C409.6 1363.5 406.7 1361.6 405.0 1362.1C403.3 1362.6 401.6 1367.5 399.3 1367.5C397.0 1367.5 393.6 1363.2 391.4 1362.0C389.2 1360.8 387.4 1359.4 386.1 1360.5C384.8 1361.6 384.6 1368.3 383.5 1368.5C382.4 1368.7 380.9 1363.3 379.6 1361.5C378.3 1359.7 376.9 1356.6 375.6 1357.5C374.3 1358.4 373.0 1366.3 371.7 1367.0C370.4 1367.7 369.0 1363.8 367.7 1361.5C366.4 1359.2 366.0 1354.8 363.8 1353.5C361.6 1352.2 357.5 1352.8 354.6 1353.5C351.8 1354.2 349.3 1357.2 346.7 1357.5C344.1 1357.8 340.8 1354.4 338.8 1355.0C336.8 1355.6 336.4 1359.6 334.9 1361.0C333.4 1362.4 332.0 1363.2 329.6 1363.6C327.2 1364.0 322.4 1364.7 320.7 1363.6C319.0 1362.5 319.4 1359.6 319.4 1357.0C319.4 1354.4 319.8 1350.5 320.7 1347.9Z" fill="#000" stroke="#808080" stroke-width="2" stroke-linejoin="round"/>
<path d="M285.2 1372.8C286.2 1371.0 287.7 1369.1 289.2 1367.6C290.7 1366.1 292.6 1364.1 294.4 1363.6C296.1 1363.0 297.9 1364.0 299.7 1364.3C301.4 1364.6 302.5 1365.4 304.9 1365.6C307.3 1365.8 311.8 1365.7 314.1 1365.6C316.5 1365.5 318.3 1364.7 319.0 1365.0C319.7 1365.3 318.5 1366.3 318.1 1367.6C317.7 1368.9 317.7 1370.8 316.8 1372.8C315.9 1374.8 314.3 1377.9 312.8 1379.4C311.3 1380.9 308.9 1380.9 307.6 1382.0C306.3 1383.1 306.0 1384.9 304.9 1386.0C303.8 1387.1 302.8 1388.2 301.0 1388.6C299.2 1389.0 296.6 1388.7 294.4 1388.6C292.2 1388.5 289.5 1388.8 287.9 1387.9C286.3 1387.0 285.4 1384.9 284.6 1383.3C283.8 1381.7 283.2 1379.8 283.3 1378.1C283.4 1376.3 284.2 1374.5 285.2 1372.8Z" fill="#000" stroke="#808080" stroke-width="2" stroke-linejoin="round"/>
<path d="M320.4 1367.0C319.8 1367.9 317.4 1369.5 316.5 1372.3C315.6 1375.1 315.2 1380.6 315.2 1384.1C315.2 1387.6 317.2 1391.3 316.5 1393.3C315.8 1395.3 312.5 1397.0 311.2 1395.9C309.9 1394.8 309.7 1388.2 308.6 1386.7C307.5 1385.2 305.6 1384.5 304.7 1386.7C303.8 1388.9 303.4 1395.8 303.4 1399.8C303.4 1403.8 305.4 1408.2 304.7 1410.4C304.0 1412.6 300.7 1413.9 299.4 1413.0C298.1 1412.1 297.0 1407.7 296.8 1405.1C296.6 1402.5 298.5 1399.4 298.1 1397.2C297.7 1395.0 296.2 1393.1 294.2 1392.0C292.2 1390.9 288.3 1390.3 286.3 1390.7C284.3 1391.1 284.1 1394.2 282.3 1394.6C280.6 1395.0 276.0 1394.4 275.8 1393.3C275.6 1392.2 279.5 1390.0 281.0 1388.0C282.5 1386.0 285.4 1383.2 285.0 1381.5C284.6 1379.8 280.5 1378.5 278.4 1377.5C276.3 1376.5 272.3 1376.4 272.5 1375.5C272.7 1374.6 277.4 1373.3 279.7 1372.3C282.0 1371.3 284.3 1370.9 286.3 1369.6C288.3 1368.3 289.8 1366.2 291.5 1364.4C293.2 1362.7 296.3 1360.1 296.8 1359.1C297.3 1358.1 294.7 1360.3 294.4 1358.4C294.1 1356.5 294.4 1350.2 295.1 1347.9C295.8 1345.6 295.9 1345.5 298.4 1344.6C300.9 1343.7 308.0 1343.6 310.2 1342.6C312.4 1341.6 311.9 1339.8 311.5 1338.7C311.1 1337.6 309.8 1336.3 307.6 1336.0C305.4 1335.7 300.6 1336.8 298.4 1336.7C296.2 1336.6 293.9 1336.8 294.4 1335.4C294.9 1334.0 298.2 1329.3 301.6 1328.1C305.0 1326.9 312.5 1325.8 314.8 1328.1C317.1 1330.4 314.9 1339.4 315.7 1341.9C316.5 1344.4 318.1 1343.6 319.4 1343.3C320.7 1343.0 322.4 1341.7 323.3 1340.0C324.2 1338.3 323.7 1334.7 324.6 1333.4C325.5 1332.1 326.2 1332.2 328.6 1332.1C331.0 1331.9 337.1 1332.4 338.8 1332.5" fill="none" stroke="#fff" stroke-width="2.2" stroke-linejoin="round"/>
<circle cx="308.2" cy="1370.2" r="3.6" fill="#1216f0" stroke="#808080" stroke-width="1.8"/>
<circle cx="360.6" cy="1346.8" r="2.8" fill="#3c50f0" stroke="#808080" stroke-width="1.8"/>
<circle cx="419.0" cy="1363.6" r="4.0" fill="#1418d8" stroke="#808080" stroke-width="1.8"/>
<circle cx="418.4" cy="1363.9" r="4.0" fill="#1418d8" stroke="#808080" stroke-width="1.8"/>
<circle cx="447.8" cy="1369.9" r="5.0" fill="#1014d4" stroke="#808080" stroke-width="1.8"/>
<path d="M119.0 1347.4C120.2 1340.7 124.5 1347.8 126.0 1348.9C127.5 1350.0 127.2 1352.2 128.2 1354.0C129.2 1355.8 130.3 1358.5 131.9 1359.8C133.5 1361.1 136.0 1360.9 137.7 1362.0C139.4 1363.1 141.5 1364.3 142.1 1366.4C142.7 1368.5 141.8 1372.1 141.4 1374.4C141.0 1376.7 141.0 1378.3 139.9 1380.3C138.8 1382.2 136.6 1384.5 134.8 1386.1C133.0 1387.7 130.6 1388.8 128.9 1389.7C127.2 1390.6 126.2 1391.3 124.6 1391.2C122.9 1391.1 119.9 1396.3 119.0 1389.0C118.1 1381.7 117.8 1354.1 119.0 1347.4Z" fill="#000" stroke="#808080" stroke-width="2" stroke-linejoin="round"/>
<path d="M157.4 1342.3C159.1 1341.6 165.5 1343.7 167.6 1345.2C169.7 1346.7 170.0 1349.1 169.8 1351.1C169.6 1353.0 167.0 1355.0 166.2 1356.9C165.3 1358.8 164.2 1361.2 164.7 1362.7C165.2 1364.2 168.6 1364.0 169.1 1365.7C169.6 1367.4 169.1 1372.0 167.6 1373.0C166.1 1374.0 162.1 1372.7 160.3 1371.5C158.5 1370.3 157.4 1368.1 156.7 1365.7C156.0 1363.3 155.9 1359.6 156.0 1356.9C156.1 1354.2 157.2 1352.0 157.4 1349.6C157.6 1347.2 155.7 1343.0 157.4 1342.3Z" fill="#000" stroke="#808080" stroke-width="2" stroke-linejoin="round"/>
<path d="M149.4 1400.7C150.7 1399.2 155.3 1396.8 157.4 1396.3C159.5 1395.8 161.0 1396.3 161.8 1397.8C162.7 1399.3 164.6 1403.9 162.5 1405.1C160.4 1406.3 151.6 1405.8 149.4 1405.1C147.2 1404.4 148.1 1402.2 149.4 1400.7Z" fill="#000" stroke="#808080" stroke-width="2" stroke-linejoin="round"/>
<path d="M139.9 1393.4C141.0 1391.2 145.0 1388.5 145.7 1389.0C146.4 1389.5 145.0 1393.9 144.3 1396.3C143.6 1398.7 142.2 1402.6 141.4 1403.6C140.6 1404.6 139.4 1403.9 139.2 1402.2C138.9 1400.5 138.8 1395.6 139.9 1393.4Z" fill="#000" stroke="#808080" stroke-width="2" stroke-linejoin="round"/>
<path d="M169.1 1364.2C172.0 1363.7 186.9 1363.8 191.0 1364.2C195.1 1364.6 194.4 1365.6 193.9 1366.4C193.4 1367.2 190.1 1369.3 188.1 1369.3C186.1 1369.3 184.6 1366.8 182.2 1366.4C179.8 1366.0 175.7 1367.5 173.5 1367.1C171.3 1366.7 166.2 1364.7 169.1 1364.2Z" fill="#606060" stroke="#808080" stroke-width="1.5" stroke-linejoin="round"/>
<path d="M192.5 1377.3C193.0 1375.8 197.0 1371.0 198.3 1370.0C199.6 1369.0 201.0 1370.0 200.5 1371.5C200.0 1373.0 196.7 1377.8 195.4 1378.8C194.1 1379.8 192.0 1378.8 192.5 1377.3Z" fill="#606060" stroke="#808080" stroke-width="1.5" stroke-linejoin="round"/>
<path d="M174.2 1381.7C176.9 1381.2 188.4 1380.6 191.0 1381.0C193.6 1381.4 192.2 1383.4 189.5 1383.9C186.8 1384.4 177.5 1384.3 174.9 1383.9C172.3 1383.5 171.5 1382.2 174.2 1381.7Z" fill="#606060" stroke="#808080" stroke-width="1.5" stroke-linejoin="round"/>
<path d="M119.0 1343.8C120.3 1343.2 124.9 1340.3 126.8 1340.1C128.7 1339.8 130.0 1340.7 130.4 1342.3C130.8 1343.9 129.8 1347.9 129.0 1349.6C128.2 1351.3 125.7 1351.3 125.3 1352.5C124.9 1353.7 125.6 1355.4 126.8 1356.9C128.0 1358.4 130.9 1361.3 132.6 1361.3C134.3 1361.3 135.8 1358.4 137.0 1356.9C138.2 1355.4 138.8 1354.2 139.9 1352.5C141.0 1350.8 142.3 1348.2 143.5 1346.7C144.7 1345.2 146.2 1344.7 147.2 1343.8C148.2 1342.9 148.2 1342.2 149.4 1341.6C150.6 1341.0 152.7 1340.1 154.5 1340.1C156.3 1340.1 158.6 1340.8 160.3 1341.6C162.0 1342.4 163.2 1344.3 164.7 1345.2C166.2 1346.1 168.1 1345.7 169.1 1346.7C170.1 1347.7 170.8 1349.4 170.6 1351.1C170.3 1352.8 168.3 1355.2 167.6 1356.9C166.9 1358.6 166.1 1360.3 166.2 1361.3C166.3 1362.3 163.8 1362.5 168.4 1362.7C173.0 1362.9 189.2 1362.1 193.9 1362.7C198.6 1363.3 195.8 1365.3 196.8 1366.4C197.8 1367.5 197.6 1368.8 199.8 1369.3C202.0 1369.8 208.2 1368.9 210.0 1369.3C211.8 1369.7 212.4 1371.0 210.7 1371.5C209.0 1372.0 202.4 1371.2 199.8 1372.2C197.2 1373.2 196.6 1375.2 195.4 1377.3C194.2 1379.4 193.1 1382.6 192.5 1384.6C191.9 1386.5 192.2 1389.0 191.7 1389.0C191.2 1389.0 192.3 1385.3 189.5 1384.6C186.7 1383.9 177.6 1383.9 174.9 1384.6C172.2 1385.3 173.4 1387.5 173.5 1389.0C173.6 1390.5 175.6 1392.1 175.7 1393.4C175.8 1394.7 174.9 1396.6 174.2 1397.0C173.5 1397.4 171.7 1396.9 171.3 1395.6C170.9 1394.3 171.8 1391.3 172.0 1389.0C172.2 1386.7 172.0 1383.2 172.7 1381.7C173.4 1380.2 173.8 1380.8 176.4 1380.3C179.0 1379.8 185.9 1379.8 188.1 1378.8C190.3 1377.8 190.5 1376.0 189.5 1374.4C188.5 1372.8 184.4 1370.4 182.2 1369.3C180.0 1368.2 178.1 1367.4 176.4 1367.8C174.7 1368.2 173.2 1369.9 172.0 1371.5C170.8 1373.1 170.5 1376.3 169.1 1377.3C167.7 1378.3 165.2 1376.6 163.3 1377.3C161.4 1378.0 159.1 1380.2 157.4 1381.7C155.7 1383.2 154.3 1384.4 153.0 1386.1C151.7 1387.8 150.1 1390.4 149.4 1391.9C148.7 1393.4 148.2 1394.2 148.7 1394.9C149.2 1395.6 151.0 1396.7 152.3 1396.3C153.6 1395.9 154.6 1393.2 156.7 1392.7C158.8 1392.2 163.2 1392.1 164.7 1393.4C166.1 1394.7 165.4 1398.4 165.4 1400.7C165.4 1403.0 169.2 1406.2 164.7 1407.3C160.2 1408.4 142.9 1409.1 138.4 1407.3C133.9 1405.5 138.2 1398.7 137.7 1396.3C137.2 1393.9 136.3 1393.2 135.5 1392.7C134.7 1392.2 133.7 1392.8 132.6 1393.4C131.5 1394.0 130.1 1396.5 128.9 1396.3C127.7 1396.0 127.0 1392.8 125.3 1391.9C123.6 1391.1 120.0 1391.3 119.0 1391.2" fill="none" stroke="#fff" stroke-width="2.2" stroke-linejoin="round" stroke-linecap="round"/>
<path d="M299.7 1351.8C300.0 1350.2 300.6 1349.5 301.6 1349.2C302.6 1348.9 304.5 1349.0 305.6 1349.8C306.7 1350.6 307.2 1353.8 308.2 1353.8C309.2 1353.8 310.2 1350.6 311.5 1349.8C312.8 1349.0 314.9 1348.7 316.1 1349.2C317.3 1349.8 318.4 1351.5 318.7 1353.1C319.0 1354.7 318.9 1357.6 318.1 1359.0C317.3 1360.4 316.5 1361.2 314.1 1361.6C311.7 1362.0 306.0 1362.0 303.6 1361.6C301.2 1361.2 300.4 1360.6 299.7 1359.0C299.0 1357.4 299.4 1353.4 299.7 1351.8Z" fill="none" stroke="#fff" stroke-width="2.2" stroke-linejoin="round" stroke-linecap="round"/>
<ellipse cx="150.1" cy="1346.7" rx="3.2" ry="5.0" transform="rotate(0 150.1 1346.7)" fill="none" stroke="#fff" stroke-width="2.2" stroke-linejoin="round" stroke-linecap="round"/>
<ellipse cx="149.5" cy="1373.0" rx="4.6" ry="10.0" transform="rotate(12 149.5 1373.0)" fill="none" stroke="#fff" stroke-width="2.2" stroke-linejoin="round" stroke-linecap="round"/>
<ellipse cx="162.5" cy="1376.6" rx="2.2" ry="2.2" transform="rotate(0 162.5 1376.6)" fill="none" stroke="#fff" stroke-width="2.2" stroke-linejoin="round" stroke-linecap="round"/>
<ellipse cx="153.9" cy="1328.6" rx="5.0" ry="2.8" transform="rotate(0 153.9 1328.6)" fill="none" stroke="#fff" stroke-width="2.2" stroke-linejoin="round" stroke-linecap="round"/>
<ellipse cx="180.8" cy="1346.4" rx="2.2" ry="2.2" transform="rotate(0 180.8 1346.4)" fill="none" stroke="#fff" stroke-width="2.2" stroke-linejoin="round" stroke-linecap="round"/>
<ellipse cx="186.3" cy="1352.5" rx="2.2" ry="2.2" transform="rotate(0 186.3 1352.5)" fill="none" stroke="#fff" stroke-width="2.2" stroke-linejoin="round" stroke-linecap="round"/>
<ellipse cx="198.0" cy="1358.4" rx="2.2" ry="2.2" transform="rotate(0 198.0 1358.4)" fill="none" stroke="#fff" stroke-width="2.2" stroke-linejoin="round" stroke-linecap="round"/>
<ellipse cx="215.1" cy="1382.4" rx="2.2" ry="2.2" transform="rotate(0 215.1 1382.4)" fill="none" stroke="#fff" stroke-width="2.2" stroke-linejoin="round" stroke-linecap="round"/>
<ellipse cx="127.9" cy="1405.8" rx="2.0" ry="2.0" transform="rotate(0 127.9 1405.8)" fill="none" stroke="#fff" stroke-width="2.2" stroke-linejoin="round" stroke-linecap="round"/>
<ellipse cx="123.1" cy="1411.6" rx="1.8" ry="1.8" transform="rotate(0 123.1 1411.6)" fill="none" stroke="#fff" stroke-width="2.2" stroke-linejoin="round" stroke-linecap="round"/>
<ellipse cx="238.2" cy="1370.2" rx="2.2" ry="2.2" transform="rotate(0 238.2 1370.2)" fill="none" stroke="#fff" stroke-width="2.2" stroke-linejoin="round" stroke-linecap="round"/>
<ellipse cx="250.3" cy="1370.2" rx="2.2" ry="2.2" transform="rotate(0 250.3 1370.2)" fill="none" stroke="#fff" stroke-width="2.2" stroke-linejoin="round" stroke-linecap="round"/>
<ellipse cx="215.2" cy="1381.8" rx="2.2" ry="2.2" transform="rotate(0 215.2 1381.8)" fill="none" stroke="#fff" stroke-width="2.2" stroke-linejoin="round" stroke-linecap="round"/>
<ellipse cx="221.2" cy="1393.4" rx="2.2" ry="2.2" transform="rotate(0 221.2 1393.4)" fill="none" stroke="#fff" stroke-width="2.2" stroke-linejoin="round" stroke-linecap="round"/>
<ellipse cx="250.3" cy="1399.3" rx="2.2" ry="2.2" transform="rotate(0 250.3 1399.3)" fill="none" stroke="#fff" stroke-width="2.2" stroke-linejoin="round" stroke-linecap="round"/>
<ellipse cx="255.8" cy="1387.7" rx="2.3" ry="2.3" transform="rotate(0 255.8 1387.7)" fill="none" stroke="#fff" stroke-width="2.2" stroke-linejoin="round" stroke-linecap="round"/>
<ellipse cx="261.9" cy="1393.8" rx="2.2" ry="2.2" transform="rotate(0 261.9 1393.8)" fill="none" stroke="#fff" stroke-width="2.2" stroke-linejoin="round" stroke-linecap="round"/>
<ellipse cx="264.5" cy="1381.8" rx="4.0" ry="2.0" transform="rotate(0 264.5 1381.8)" fill="none" stroke="#fff" stroke-width="2.2" stroke-linejoin="round" stroke-linecap="round"/>
<ellipse cx="285.0" cy="1335.0" rx="2.3" ry="2.3" transform="rotate(0 285.0 1335.0)" fill="none" stroke="#fff" stroke-width="2.2" stroke-linejoin="round" stroke-linecap="round"/>
<ellipse cx="285.0" cy="1352.0" rx="2.3" ry="2.3" transform="rotate(0 285.0 1352.0)" fill="none" stroke="#fff" stroke-width="2.2" stroke-linejoin="round" stroke-linecap="round"/>
<ellipse cx="273.7" cy="1364.7" rx="2.3" ry="2.3" transform="rotate(0 273.7 1364.7)" fill="none" stroke="#fff" stroke-width="2.2" stroke-linejoin="round" stroke-linecap="round"/>
<ellipse cx="279.3" cy="1375.7" rx="1.5" ry="1.5" transform="rotate(0 279.3 1375.7)" fill="none" stroke="#fff" stroke-width="2.2" stroke-linejoin="round" stroke-linecap="round"/>
<ellipse cx="264.9" cy="1382.0" rx="4.6" ry="2.2" transform="rotate(0 264.9 1382.0)" fill="none" stroke="#fff" stroke-width="2.2" stroke-linejoin="round" stroke-linecap="round"/>
<ellipse cx="256.3" cy="1388.0" rx="2.0" ry="2.0" transform="rotate(0 256.3 1388.0)" fill="none" stroke="#fff" stroke-width="2.2" stroke-linejoin="round" stroke-linecap="round"/>
<ellipse cx="261.6" cy="1393.8" rx="2.3" ry="2.3" transform="rotate(0 261.6 1393.8)" fill="none" stroke="#fff" stroke-width="2.2" stroke-linejoin="round" stroke-linecap="round"/>
<ellipse cx="286.5" cy="1405.7" rx="3.7" ry="2.2" transform="rotate(0 286.5 1405.7)" fill="none" stroke="#fff" stroke-width="2.2" stroke-linejoin="round" stroke-linecap="round"/>
<ellipse cx="345.4" cy="1369.6" rx="5.0" ry="2.3" transform="rotate(0 345.4 1369.6)" fill="none" stroke="#fff" stroke-width="2.2" stroke-linejoin="round" stroke-linecap="round"/>
<ellipse cx="366.4" cy="1375.7" rx="2.3" ry="2.3" transform="rotate(0 366.4 1375.7)" fill="none" stroke="#fff" stroke-width="2.2" stroke-linejoin="round" stroke-linecap="round"/>
<ellipse cx="419.0" cy="1393.8" rx="2.3" ry="2.3" transform="rotate(0 419.0 1393.8)" fill="none" stroke="#fff" stroke-width="2.2" stroke-linejoin="round" stroke-linecap="round"/>
<ellipse cx="343.6" cy="1346.8" rx="3.2" ry="3.2" transform="rotate(0 343.6 1346.8)" fill="none" stroke="#fff" stroke-width="2.2" stroke-linejoin="round" stroke-linecap="round"/>
<ellipse cx="453.8" cy="1391.5" rx="2.5" ry="5.0" transform="rotate(0 453.8 1391.5)" fill="none" stroke="#fff" stroke-width="2.2" stroke-linejoin="round" stroke-linecap="round"/>
<ellipse cx="459.1" cy="1413.3" rx="1.6" ry="4.6" transform="rotate(0 459.1 1413.3)" fill="none" stroke="#fff" stroke-width="2.2" stroke-linejoin="round" stroke-linecap="round"/>
<ellipse cx="418.4" cy="1394.1" rx="2.0" ry="2.0" transform="rotate(0 418.4 1394.1)" fill="none" stroke="#fff" stroke-width="2.2" stroke-linejoin="round" stroke-linecap="round"/>
<ellipse cx="499.8" cy="1388.1" rx="2.2" ry="2.2" transform="rotate(0 499.8 1388.1)" fill="none" stroke="#fff" stroke-width="2.2" stroke-linejoin="round" stroke-linecap="round"/>
<ellipse cx="535.0" cy="1471.1" rx="3.5" ry="4.4" transform="rotate(0 535.0 1471.1)" fill="none" stroke="#fff" stroke-width="2.2" stroke-linejoin="round" stroke-linecap="round"/>
<ellipse cx="540.6" cy="1484.8" rx="2.6" ry="5.6" transform="rotate(0 540.6 1484.8)" fill="none" stroke="#fff" stroke-width="2.2" stroke-linejoin="round" stroke-linecap="round"/>
<ellipse cx="523.4" cy="1488.9" rx="1.8" ry="1.8" transform="rotate(0 523.4 1488.9)" fill="none" stroke="#fff" stroke-width="2.2" stroke-linejoin="round" stroke-linecap="round"/>
<ellipse cx="535.6" cy="1506.3" rx="1.8" ry="1.8" transform="rotate(0 535.6 1506.3)" fill="none" stroke="#fff" stroke-width="2.2" stroke-linejoin="round" stroke-linecap="round"/>
<ellipse cx="517.7" cy="1536.5" rx="1.8" ry="1.8" transform="rotate(0 517.7 1536.5)" fill="none" stroke="#fff" stroke-width="2.2" stroke-linejoin="round" stroke-linecap="round"/>
<ellipse cx="517.7" cy="1547.2" rx="1.8" ry="1.8" transform="rotate(0 517.7 1547.2)" fill="none" stroke="#fff" stroke-width="2.2" stroke-linejoin="round" stroke-linecap="round"/>
<ellipse cx="520.7" cy="1566.0" rx="4.4" ry="2.6" transform="rotate(0 520.7 1566.0)" fill="none" stroke="#fff" stroke-width="2.2" stroke-linejoin="round" stroke-linecap="round"/>
<ellipse cx="529.9" cy="1582.9" rx="4.0" ry="2.2" transform="rotate(-15 529.9 1582.9)" fill="none" stroke="#fff" stroke-width="2.2" stroke-linejoin="round" stroke-linecap="round"/>
<ellipse cx="139.3" cy="1422.3" rx="1.8" ry="1.8" transform="rotate(0 139.3 1422.3)" fill="none" stroke="#fff" stroke-width="2.2" stroke-linejoin="round" stroke-linecap="round"/>
<circle cx="203.6" cy="1352.7" r="2.2" fill="#fff"/>
<circle cx="203.6" cy="1405.5" r="2.2" fill="#fff"/>
<circle cx="523.4" cy="1500.8" r="1.2" fill="#fff"/>
<circle cx="262.0" cy="1376.0" r="1.3" fill="#fff"/>
<circle cx="314.1" cy="1423.5" r="1.6" fill="#fff"/>
<path d="M116.0 1268.0C116.9 1267.9 119.3 1267.6 121.3 1267.3C123.3 1267.0 126.4 1267.4 127.9 1265.9C129.4 1264.4 128.8 1260.5 130.5 1258.1C132.2 1255.7 135.8 1253.5 138.4 1251.5C141.0 1249.5 143.7 1248.2 146.3 1246.2C148.9 1244.2 151.3 1241.2 154.2 1239.7C157.0 1238.2 159.9 1238.1 163.4 1237.0C166.9 1235.9 169.3 1234.0 175.2 1233.1C181.1 1232.2 178.0 1232.0 198.8 1231.6C219.6 1231.2 266.5 1231.0 300.0 1230.9C333.5 1230.8 357.5 1230.8 400.0 1230.8C442.5 1230.8 526.5 1230.8 555.0 1231.2C583.5 1231.6 567.7 1232.0 571.0 1233.0C574.3 1234.0 575.0 1236.0 575.0 1237.5C575.0 1239.0 572.6 1240.8 570.8 1242.3C569.0 1243.8 566.4 1244.2 564.2 1246.2C562.0 1248.2 559.1 1251.2 557.6 1254.1C556.1 1256.9 555.9 1255.6 555.5 1263.3C555.1 1271.0 555.1 1294.0 555.0 1300.1C555.0 1305.3 554.8 1325.5 555.0 1331.6C555.2 1337.7 556.4 1335.2 556.3 1336.9C556.2 1338.7 554.7 1337.7 554.5 1342.1C554.3 1346.5 555.4 1358.4 555.0 1363.2C554.6 1368.0 553.7 1369.2 552.4 1371.0C551.1 1372.8 553.2 1373.0 547.1 1373.7C541.0 1374.4 520.9 1374.8 515.6 1375.0" fill="none" stroke="#fff" stroke-width="2.2" stroke-linejoin="round" stroke-linecap="round"/>
<path d="M515.6 1378.9C515.6 1380.9 516.4 1388.5 515.6 1391.0C514.8 1393.5 510.9 1392.9 510.9 1394.1C510.9 1395.3 514.8 1397.4 515.6 1398.1C515.7 1401.8 515.0 1415.3 516.0 1420.4C517.0 1425.5 519.5 1426.7 521.8 1428.6C524.1 1430.5 526.5 1431.2 529.9 1431.7C533.3 1432.2 539.5 1430.9 542.2 1431.7C544.9 1432.5 545.1 1434.9 546.3 1436.8C547.5 1438.7 549.5 1440.9 549.3 1442.9C549.1 1444.9 545.5 1447.1 545.3 1449.0C545.1 1450.9 548.8 1452.7 548.3 1454.2C547.8 1455.7 544.2 1457.0 542.2 1458.2C540.2 1459.4 538.3 1460.3 536.1 1461.3C533.9 1462.3 530.4 1463.0 528.9 1464.4C527.4 1465.8 527.1 1467.3 526.9 1469.5C526.7 1471.7 527.2 1475.7 527.9 1477.7C528.6 1479.7 530.0 1479.7 530.9 1481.7C531.8 1483.7 532.5 1487.7 533.0 1489.9C533.5 1492.1 532.5 1493.8 534.0 1495.0C535.5 1496.2 540.3 1495.9 542.2 1497.1C544.1 1498.3 545.1 1500.2 545.3 1502.2C545.5 1504.2 544.1 1507.3 543.2 1509.3C542.3 1511.3 540.6 1511.5 540.1 1514.4C539.6 1517.3 540.6 1523.6 540.1 1526.7C539.6 1529.8 538.5 1532.1 537.1 1532.8C535.8 1533.5 533.4 1532.1 532.0 1530.8C530.6 1529.5 530.6 1525.0 528.9 1524.7C527.2 1524.4 523.2 1527.5 521.8 1528.8C520.4 1530.1 520.0 1531.8 520.7 1532.8C521.4 1533.8 525.4 1533.5 525.8 1534.9C526.1 1536.3 522.8 1539.3 522.8 1541.0C522.8 1542.7 523.8 1543.6 525.8 1545.1C527.8 1546.6 532.8 1548.5 535.0 1550.2C537.2 1551.9 538.2 1553.1 539.1 1555.3C540.0 1557.5 540.3 1561.1 540.1 1563.5C539.9 1565.9 539.1 1567.5 538.1 1569.6C537.1 1571.6 534.2 1574.3 534.0 1575.8C533.8 1577.3 536.4 1577.3 537.1 1578.8C537.8 1580.3 539.0 1583.6 538.1 1585.0C537.2 1586.4 534.7 1587.3 532.0 1587.0C529.3 1586.7 524.0 1584.8 521.8 1582.9C519.6 1581.0 520.4 1576.1 518.7 1575.8C517.0 1575.5 513.7 1580.2 511.5 1580.9C509.3 1581.6 507.3 1580.4 505.4 1579.9C503.5 1579.4 502.0 1576.8 500.3 1577.8C498.6 1578.8 497.1 1584.6 495.2 1586.0C493.3 1587.4 490.9 1586.7 489.0 1586.0C487.1 1585.3 485.9 1582.6 483.9 1581.9C481.9 1581.2 477.6 1580.9 476.8 1581.9C476.0 1582.9 479.3 1586.0 478.8 1588.0C478.3 1590.0 475.2 1593.7 473.7 1594.2C472.2 1594.7 470.8 1590.8 469.6 1591.1C468.4 1591.4 468.1 1596.4 466.6 1596.2C465.1 1596.0 461.9 1590.1 460.4 1590.1C458.9 1590.1 459.1 1595.3 457.4 1596.2C455.7 1597.1 452.4 1594.7 450.2 1595.2C448.0 1595.7 446.1 1597.4 444.1 1599.3C442.1 1601.2 441.4 1604.9 438.1 1606.7C434.8 1608.5 427.9 1609.9 424.1 1610.2C420.3 1610.5 419.4 1607.9 415.3 1608.5C411.2 1609.1 405.2 1612.5 399.6 1613.7C394.1 1614.9 386.7 1616.1 382.0 1615.5C377.3 1614.9 375.0 1611.7 371.5 1610.2C368.0 1608.7 364.5 1608.2 361.0 1606.7C357.5 1605.2 353.2 1602.4 350.5 1601.5C347.8 1600.6 347.0 1600.7 345.0 1601.5C343.0 1602.3 340.3 1604.3 338.3 1606.5C336.3 1608.7 335.4 1614.1 333.2 1614.9C330.9 1615.8 328.0 1612.2 324.8 1611.6C321.6 1611.0 317.2 1610.2 314.2 1611.1C311.2 1612.0 309.6 1615.4 306.9 1616.9C304.2 1618.4 300.3 1618.6 298.1 1619.9C295.9 1621.2 294.5 1624.8 293.5 1624.5C292.5 1624.2 293.2 1619.4 292.3 1618.4C291.4 1617.4 289.4 1617.2 287.9 1618.4C286.4 1619.6 285.0 1624.0 283.5 1625.7C282.0 1627.4 282.8 1627.9 279.1 1628.6C275.5 1629.3 265.7 1629.1 261.6 1630.1C257.5 1631.1 256.5 1632.8 254.3 1634.5C252.1 1636.2 250.2 1639.2 248.5 1640.3C246.8 1641.4 246.0 1641.8 244.1 1641.2C242.2 1640.6 238.8 1637.4 236.8 1636.5C234.9 1635.6 234.4 1635.3 232.4 1635.9C230.4 1636.5 227.1 1640.4 225.1 1640.3C223.1 1640.2 222.1 1635.5 220.7 1635.3C219.2 1635.0 219.3 1637.7 216.4 1638.8C213.5 1639.9 206.6 1639.6 203.2 1641.8C199.8 1644.0 198.1 1650.0 195.9 1652.0C193.7 1654.0 191.8 1654.7 190.1 1654.0C188.4 1653.3 187.9 1647.6 185.7 1647.6C183.5 1647.6 178.8 1654.0 176.9 1654.0C175.0 1654.0 175.2 1647.7 174.0 1647.6C172.8 1647.5 171.8 1652.5 169.6 1653.4C167.4 1654.3 162.9 1654.7 160.9 1652.8C158.9 1650.9 158.9 1642.8 157.4 1641.8C155.9 1640.8 155.4 1646.0 152.1 1647.0C148.8 1648.0 141.9 1646.4 137.5 1647.6C133.1 1648.8 128.4 1651.9 125.8 1654.0C123.2 1656.1 122.6 1659.0 122.0 1660.0" fill="none" stroke="#fff" stroke-width="2.2" stroke-linejoin="round" stroke-linecap="round"/>
<path d="M156.8 1199.7C159.4 1200.7 165.5 1203.2 172.5 1205.5C179.5 1207.8 190.0 1211.2 198.8 1213.4C207.6 1215.6 216.3 1217.1 225.1 1218.6C233.9 1220.1 242.7 1221.5 251.4 1222.6C260.2 1223.7 269.5 1224.5 277.6 1225.2C285.7 1225.9 287.9 1226.4 300.0 1227.0C312.1 1227.6 333.3 1228.5 350.0 1229.0C366.7 1229.5 381.7 1229.7 400.0 1229.7C418.3 1229.7 438.1 1229.5 460.0 1229.2C481.9 1228.9 512.7 1228.3 531.4 1227.8C550.1 1227.3 565.2 1226.3 572.0 1226.0" fill="none" stroke="#ffa000" stroke-width="2.1"/>
</g>
<path d="M179.50 1197.00v19.4M179.50 1656.20v-19.4M376.10 1197.00v19.4M376.10 1656.20v-19.4M135.88 1197.00v9.3M135.88 1656.20v-9.3M149.05 1197.00v9.3M149.05 1656.20v-9.3M160.45 1197.00v9.3M160.45 1656.20v-9.3M170.50 1197.00v9.3M170.50 1656.20v-9.3M238.68 1197.00v9.3M238.68 1656.20v-9.3M273.30 1197.00v9.3M273.30 1656.20v-9.3M297.86 1197.00v9.3M297.86 1656.20v-9.3M316.92 1197.00v9.3M316.92 1656.20v-9.3M332.48 1197.00v9.3M332.48 1656.20v-9.3M345.65 1197.00v9.3M345.65 1656.20v-9.3M357.05 1197.00v9.3M357.05 1656.20v-9.3M367.10 1197.00v9.3M367.10 1656.20v-9.3M435.28 1197.00v9.3M435.28 1656.20v-9.3M469.90 1197.00v9.3M469.90 1656.20v-9.3M494.46 1197.00v9.3M494.46 1656.20v-9.3M513.52 1197.00v9.3M513.52 1656.20v-9.3M529.08 1197.00v9.3M529.08 1656.20v-9.3M542.25 1197.00v9.3M542.25 1656.20v-9.3M553.65 1197.00v9.3M553.65 1656.20v-9.3M563.70 1197.00v9.3M563.70 1656.20v-9.3M121.20 1214.70h19.4M571.80 1214.70h-19.4M121.20 1309.00h19.4M571.80 1309.00h-19.4M121.20 1403.30h19.4M571.80 1403.30h-19.4M121.20 1497.60h19.4M571.80 1497.60h-19.4M121.20 1591.90h19.4M571.80 1591.90h-19.4M121.20 1648.48h9.3M571.80 1648.48h-9.3M121.20 1629.62h9.3M571.80 1629.62h-9.3M121.20 1610.76h9.3M571.80 1610.76h-9.3M121.20 1573.04h9.3M571.80 1573.04h-9.3M121.20 1554.18h9.3M571.80 1554.18h-9.3M121.20 1535.32h9.3M571.80 1535.32h-9.3M121.20 1516.46h9.3M571.80 1516.46h-9.3M121.20 1478.74h9.3M571.80 1478.74h-9.3M121.20 1459.88h9.3M571.80 1459.88h-9.3M121.20 1441.02h9.3M571.80 1441.02h-9.3M121.20 1422.16h9.3M571.80 1422.16h-9.3M121.20 1384.44h9.3M571.80 1384.44h-9.3M121.20 1365.58h9.3M571.80 1365.58h-9.3M121.20 1346.72h9.3M571.80 1346.72h-9.3M121.20 1327.86h9.3M571.80 1327.86h-9.3M121.20 1290.14h9.3M571.80 1290.14h-9.3M121.20 1271.28h9.3M571.80 1271.28h-9.3M121.20 1252.42h9.3M571.80 1252.42h-9.3M121.20 1233.56h9.3M571.80 1233.56h-9.3" stroke="#fff" stroke-width="1.7" fill="none"/>
<g font-family="Liberation Serif, serif" font-size="28" fill="#fff">
<text x="306.8" y="1493.3" textLength="111.5" lengthAdjust="spacingAndGlyphs">s-channel</text>
<text x="306.8" y="1516.4" textLength="193.4" lengthAdjust="spacingAndGlyphs">vector-mediated</text>
<text x="307.2" y="1543.7" textLength="173.4" lengthAdjust="spacingAndGlyphs">Majorana DM</text>
</g>
<g font-size="29" fill="#ffa000" stroke="#ffa000" stroke-width="0.45" font-family="Liberation Serif, serif"><text x="426.2" y="1262.0" textLength="55.6" lengthAdjust="spacingAndGlyphs">CTA</text><text x="494.4" y="1262.0" textLength="39.2" lengthAdjust="spacingAndGlyphs">GC</text></g>
<use href="#gambit" transform="translate(338.5 1173.8)"/>
<path d="M59.1 1214.80h17" stroke="#000" stroke-width="1.15"/>
<text x="78.6" y="1222.80" font-size="28.6" textLength="27.8" lengthAdjust="spacingAndGlyphs" font-family="Liberation Serif, serif">25</text>
<path d="M59.1 1309.10h17" stroke="#000" stroke-width="1.15"/>
<text x="78.6" y="1317.10" font-size="28.6" textLength="27.8" lengthAdjust="spacingAndGlyphs" font-family="Liberation Serif, serif">30</text>
<path d="M59.1 1403.40h17" stroke="#000" stroke-width="1.15"/>
<text x="78.6" y="1411.40" font-size="28.6" textLength="27.8" lengthAdjust="spacingAndGlyphs" font-family="Liberation Serif, serif">35</text>
<path d="M59.1 1497.70h17" stroke="#000" stroke-width="1.15"/>
<text x="78.6" y="1505.70" font-size="28.6" textLength="27.8" lengthAdjust="spacingAndGlyphs" font-family="Liberation Serif, serif">40</text>
<path d="M59.1 1592.00h17" stroke="#000" stroke-width="1.15"/>
<text x="78.6" y="1600.00" font-size="28.6" textLength="27.8" lengthAdjust="spacingAndGlyphs" font-family="Liberation Serif, serif">45</text>
<g font-family="Liberation Serif, serif" font-size="20.6">
<text x="287" y="1190.9" textLength="68" lengthAdjust="spacingAndGlyphs">Capped</text>
<use href="#scrL" x="364.4" y="1190.9" stroke="#000" stroke-width="1.45"/>
<text x="379" y="1194.3" font-size="14.3" textLength="35" lengthAdjust="spacingAndGlyphs">LHC</text>
<text x="414.8" y="1190.9">,</text>
<text x="427" y="1190.9" textLength="15" lengthAdjust="spacingAndGlyphs">Ω</text>
<text x="442.8" y="1194.3" font-size="14.3" textLength="25.6" lengthAdjust="spacingAndGlyphs">DM</text>
<text x="476.6" y="1190.9" textLength="16" lengthAdjust="spacingAndGlyphs">≤</text>
<text x="499" y="1190.9" textLength="15" lengthAdjust="spacingAndGlyphs">Ω</text>
<text x="515" y="1194.3" font-size="14.3" textLength="56" lengthAdjust="spacingAndGlyphs">DM,obs</text>
</g>
<use href="#cbar" y="1197.0"/>
<use href="#xax" y="1197.0"/>
<use href="#yax" y="1197.0"/>
</svg></body></html>
